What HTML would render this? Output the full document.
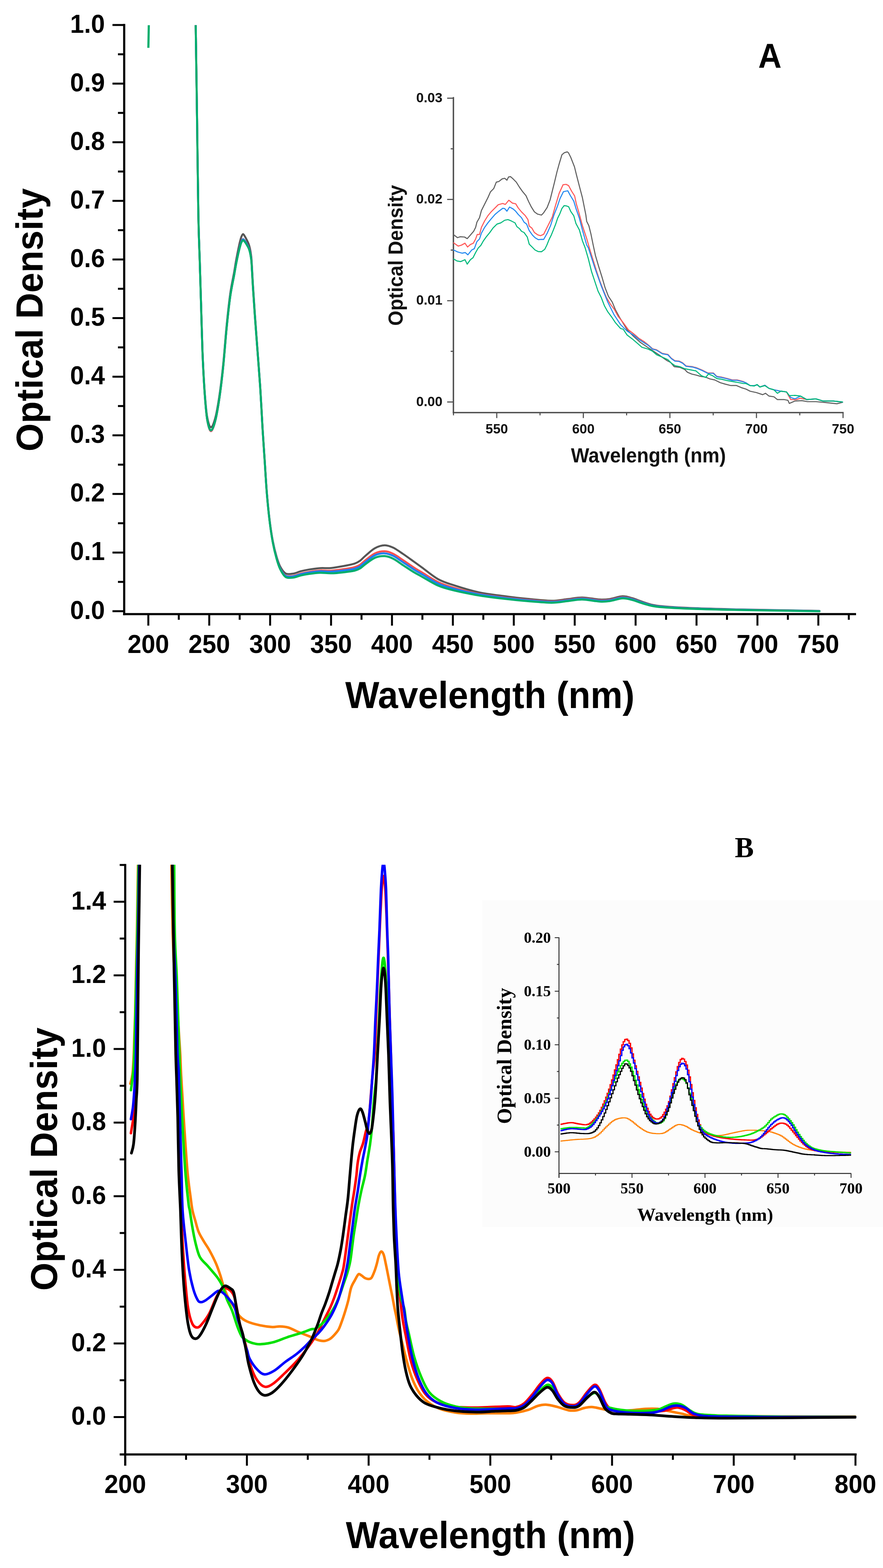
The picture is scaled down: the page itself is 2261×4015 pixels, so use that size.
<!DOCTYPE html>
<html><head><meta charset="utf-8"><title>Optical Density spectra</title>
<style>html,body{margin:0;padding:0;background:#fff;}svg{display:block;}</style></head><body>
<svg width="2261" height="4015" viewBox="0 0 2261 4015">
<rect x="0" y="0" width="2261" height="4015" fill="#fff"/>
<defs><clipPath id="clipA"><rect x="318" y="64.5" width="1874" height="1508"/></clipPath><clipPath id="clipB"><rect x="320.6" y="2214.3" width="1872" height="1510"/></clipPath></defs>
<g clip-path="url(#clipA)">
<path d="M501 58 C501.6 98.2 503.4 217.5 504.5 299.3 C505.6 381 506.8 487.7 507.9 548.6 C509 609.4 510.2 625.8 511.4 664.3 C512.6 702.9 513.7 741.4 514.9 780 C516.1 818.6 517 861.1 518.4 895.8 C519.8 930.4 521.4 961.1 523.1 987.9 C524.9 1014.7 527 1040.3 528.9 1056.6 C530.8 1072.9 532.8 1079.5 534.7 1085.8 C536.6 1092 538.2 1094.1 540.1 1094 C542 1093.9 544 1091.7 546.4 1085.3 C548.8 1079 551.6 1070.4 554.5 1055.9 C557.4 1041.3 561 1019.4 563.9 998 C566.8 976.6 569.3 955 572 927.7 C574.7 900.4 577.3 863.5 580.2 834.2 C583.1 804.9 586.3 775 589.5 752.1 C592.7 729.3 597.2 710.3 599.5 697 C601.8 683.8 602.2 680.4 603.5 672.7 C604.8 665.1 606.2 657.7 607.5 651.3 C608.8 644.8 609.8 639.4 611 634 C612.2 628.6 613.3 623.3 614.5 618.7 C615.7 614.1 616.7 609.7 618 606.5 C619.3 603.2 620.8 599.6 622.3 599.4 C623.8 599.2 625.4 602.6 627 605.2 C628.6 607.8 630.5 611.5 632.2 614.9 C633.9 618.3 635.6 621.7 637 625.5 C638.4 629.3 639.3 633.2 640.3 637.6 C641.2 642 642 646.6 642.7 651.9 C643.4 657.3 643.6 656.8 644.4 669.6 C645.2 682.5 646.4 707.2 647.7 729 C649 750.8 650.5 772.7 652.4 800.5 C654.3 828.4 657.1 864.7 659.4 896.2 C661.7 927.7 664.1 955.9 666.3 989.3 C668.5 1022.8 670.5 1065 672.4 1096.7 C674.3 1128.3 676.1 1151.7 677.9 1179.3 C679.7 1206.8 681.3 1236.6 683.4 1261.8 C685.5 1287 687.8 1309.9 690.3 1330.5 C692.8 1351.2 695.6 1369.7 698.6 1385.5 C701.6 1401.4 705 1414.5 708.2 1425.5 C711.4 1436.5 714 1444.3 717.9 1451.5 C721.8 1458.7 726.2 1465.7 731.7 1468.6 C737.2 1471.4 744.6 1469.7 751 1468.7 C757.4 1467.7 763.4 1464.5 770.3 1462.7 C777.2 1461 784 1459.5 792.3 1458.1 C800.6 1456.8 810.7 1455.3 819.9 1454.7 C829.1 1454.1 837.4 1455.3 847.5 1454.4 C857.6 1453.5 870.4 1451.2 880.5 1449.3 C890.6 1447.4 901.2 1445.3 908.1 1443.1 C915 1440.9 917.3 1439.2 921.9 1435.9 C926.5 1432.5 929.3 1428.5 935.7 1423.1 C942.1 1417.7 952.2 1407.9 960.5 1403.5 C968.8 1399 977.5 1396.4 985.3 1396.3 C993.1 1396.2 999.5 1398.9 1007.3 1402.6 C1015.1 1406.3 1023.4 1412.6 1032.2 1418.5 C1041 1424.4 1051.8 1432.4 1060 1438.3 C1068.2 1444.2 1071 1446.3 1081.4 1453.8 C1091.9 1461.4 1108.9 1475.9 1122.7 1483.5 C1136.5 1491 1146.8 1493.7 1164 1499.2 C1181.2 1504.8 1205.4 1512.2 1226.1 1516.7 C1246.8 1521.2 1267.4 1523.3 1288.1 1526.1 C1308.8 1528.8 1329.4 1531.3 1350.1 1533.3 C1370.8 1535.4 1395 1538.1 1412.2 1538.3 C1429.4 1538.4 1440.4 1535.5 1453.5 1534.1 C1466.6 1532.7 1476.9 1529.7 1490.7 1529.9 C1504.5 1530.1 1524.5 1534.5 1536.2 1535.1 C1547.9 1535.8 1551.3 1535.3 1561 1533.9 C1570.7 1532.5 1584.4 1527.2 1594.1 1526.8 C1603.8 1526.4 1609.7 1529.1 1618.9 1531.7 C1628.2 1534.3 1639 1539.4 1649.6 1542.6 C1660.2 1545.8 1663.4 1548.7 1682.7 1551 C1702 1553.4 1730.9 1555.2 1765.4 1556.8 C1799.9 1558.3 1848.2 1559.4 1889.5 1560.4 C1930.8 1561.4 1978.7 1562 2013.5 1562.7 C2048.3 1563.3 2084.2 1563.9 2098.3 1564.2" fill="none" stroke="#555555" stroke-width="5" stroke-linejoin="round" stroke-linecap="round"/>
<path d="M501 58 C501.6 98.4 503.4 218.1 504.5 300.1 C505.6 382.2 506.8 489.2 507.9 550.3 C509 611.4 510.2 628.1 511.4 666.9 C512.6 705.8 513.7 744.6 514.9 783.5 C516.1 822.3 517 865.1 518.4 900.1 C519.8 935.1 521.4 966.2 523.1 993.4 C524.9 1020.7 527 1046.8 528.9 1063.7 C530.8 1080.5 532.8 1087.6 534.7 1094.3 C536.6 1101.1 538.2 1104 540.1 1104 C542 1104 544 1101.1 546.4 1094.4 C548.8 1087.7 551.6 1078.6 554.5 1063.7 C557.4 1048.8 561 1026.5 563.9 1005 C566.8 983.5 569.3 962 572 934.7 C574.7 907.4 577.3 870.5 580.2 841.2 C583.1 811.9 586.3 782 589.5 759.1 C592.7 736.3 597.2 717.1 599.5 704 C601.8 691 602.2 688 603.5 680.7 C604.8 673.4 606.2 666.4 607.5 660.3 C608.8 654.2 609.8 649.1 611 644 C612.2 638.9 613.3 634 614.5 629.7 C615.7 625.4 616.7 621.3 618 618.4 C619.3 615.5 620.8 612.6 622.3 612.3 C623.8 612.1 625.4 614.7 627 616.8 C628.6 618.9 630.5 622.1 632.2 625.1 C633.9 628 635.6 630.9 637 634.3 C638.4 637.7 639.3 641.4 640.3 645.5 C641.2 649.7 642 654.1 642.7 659.3 C643.4 664.4 643.6 663.9 644.4 676.5 C645.2 689.2 646.4 713.6 647.7 735.1 C649 756.6 650.5 778.1 652.4 805.4 C654.3 832.8 657.1 868.2 659.4 899.3 C661.7 930.5 664.1 959 666.3 992.3 C668.5 1025.7 670.5 1068 672.4 1099.7 C674.3 1131.3 676.1 1154.7 677.9 1182.3 C679.7 1209.8 681.3 1239.6 683.4 1264.8 C685.5 1290 687.8 1312.9 690.3 1333.5 C692.8 1354.2 695.6 1372.6 698.6 1388.5 C701.6 1404.5 705 1417.9 708.2 1429.1 C711.4 1440.4 714 1448.4 717.9 1455.9 C721.8 1463.4 726.2 1471 731.7 1474.1 C737.2 1477.3 744.6 1475.6 751 1474.7 C757.4 1473.8 763.4 1470.5 770.3 1468.7 C777.2 1467 784 1465.5 792.3 1464.1 C800.6 1462.8 810.7 1461.2 819.9 1460.7 C829.1 1460.2 837.4 1461.8 847.5 1461.2 C857.6 1460.6 870.4 1458.8 880.5 1457.3 C890.6 1455.8 901.2 1454 908.1 1452.1 C915 1450.2 917.3 1448.9 921.9 1446 C926.5 1443 929.3 1439.3 935.7 1434.4 C942.1 1429.5 952.2 1420.5 960.5 1416.7 C968.8 1412.9 977.5 1411.3 985.3 1411.5 C993.1 1411.7 999.5 1414.3 1007.3 1418.2 C1015.1 1422 1023.4 1428.5 1032.2 1434.4 C1041 1440.2 1051.8 1448 1060 1453.3 C1068.2 1458.6 1071 1460 1081.4 1466.2 C1091.9 1472.5 1108.9 1484.4 1122.7 1490.9 C1136.5 1497.4 1146.8 1500.4 1164 1505.3 C1181.2 1510.3 1205.4 1516.7 1226.1 1520.7 C1246.8 1524.7 1267.4 1526.8 1288.1 1529.4 C1308.8 1531.9 1329.4 1534.1 1350.1 1535.9 C1370.8 1537.7 1395 1540.3 1412.2 1540.3 C1429.4 1540.3 1440.4 1537.6 1453.5 1536.2 C1466.6 1534.8 1476.9 1531.9 1490.7 1532.1 C1504.5 1532.3 1524.5 1536.7 1536.2 1537.4 C1547.9 1538.1 1551.3 1537.6 1561 1536.2 C1570.7 1534.8 1584.4 1529.6 1594.1 1529.2 C1603.8 1528.8 1609.7 1531.3 1618.9 1533.8 C1628.2 1536.3 1639 1541.2 1649.6 1544.2 C1660.2 1547.3 1663.4 1550 1682.7 1552.3 C1702 1554.5 1730.9 1556.2 1765.4 1557.7 C1799.9 1559.2 1848.2 1560.2 1889.5 1561.1 C1930.8 1562.1 1978.7 1562.7 2013.5 1563.3 C2048.3 1563.9 2084.2 1564.5 2098.3 1564.7" fill="none" stroke="#ff5050" stroke-width="5" stroke-linejoin="round" stroke-linecap="round"/>
<path d="M501 58 C501.6 98.3 503.4 218 504.5 300 C505.6 382 506.8 488.9 507.9 550 C509 611.1 510.2 627.7 511.4 666.5 C512.6 705.3 513.7 744.1 514.9 782.9 C516.1 821.7 517 864.5 518.4 899.4 C519.8 934.3 521.4 965.3 523.1 992.5 C524.9 1019.7 527 1045.8 528.9 1062.5 C530.8 1079.3 532.8 1086.4 534.7 1093 C536.6 1099.7 538.2 1102.5 540.1 1102.5 C542 1102.5 544 1099.7 546.4 1093 C548.8 1086.4 551.6 1077.4 554.5 1062.5 C557.4 1047.7 561 1025.5 563.9 1004.1 C566.8 982.7 569.3 961.2 572 934 C574.7 906.8 577.3 869.9 580.2 840.7 C583.1 811.5 586.3 781.6 589.5 758.9 C592.7 736.1 597.2 717 599.5 704 C601.8 691 602.2 688 603.5 680.8 C604.8 673.5 606.2 666.6 607.5 660.5 C608.8 654.4 609.8 649.3 611 644.2 C612.2 639.2 613.3 634.3 614.5 630 C615.7 625.8 616.7 621.6 618 618.8 C619.3 615.9 620.8 613.1 622.3 612.8 C623.8 612.5 625.4 615.1 627 617.1 C628.6 619.2 630.5 622.4 632.2 625.3 C633.9 628.2 635.6 631 637 634.4 C638.4 637.8 639.3 641.4 640.3 645.5 C641.2 649.7 642 654.1 642.7 659.3 C643.4 664.4 643.6 663.9 644.4 676.5 C645.2 689.2 646.4 713.6 647.7 735.1 C649 756.6 650.5 778.1 652.4 805.4 C654.3 832.8 657.1 868.2 659.4 899.3 C661.7 930.5 664.1 959 666.3 992.3 C668.5 1025.7 670.5 1068 672.4 1099.7 C674.3 1131.3 676.1 1154.7 677.9 1182.3 C679.7 1209.8 681.3 1239.6 683.4 1264.8 C685.5 1290 687.8 1312.9 690.3 1333.5 C692.8 1354.2 695.6 1372.6 698.6 1388.5 C701.6 1404.5 705 1418 708.2 1429.4 C711.4 1440.7 714 1448.8 717.9 1456.4 C721.8 1464 726.2 1471.8 731.7 1475 C737.2 1478.2 744.6 1476.7 751 1475.8 C757.4 1475 763.4 1471.8 770.3 1470.1 C777.2 1468.4 784 1467 792.3 1465.8 C800.6 1464.5 810.7 1463 819.9 1462.7 C829.1 1462.3 837.4 1464.1 847.5 1463.7 C857.6 1463.4 870.4 1461.9 880.5 1460.6 C890.6 1459.4 901.2 1457.8 908.1 1456.1 C915 1454.4 917.3 1453.1 921.9 1450.2 C926.5 1447.4 929.3 1443.6 935.7 1438.9 C942.1 1434.1 952.2 1425.3 960.5 1421.6 C968.8 1418 977.5 1416.6 985.3 1416.9 C993.1 1417.2 999.5 1419.8 1007.3 1423.6 C1015.1 1427.4 1023.4 1434.1 1032.2 1439.9 C1041 1445.7 1051.8 1453.1 1060 1458.3 C1068.2 1463.5 1071 1464.8 1081.4 1470.9 C1091.9 1477 1108.9 1488.7 1122.7 1494.9 C1136.5 1501.1 1146.8 1503.6 1164 1508.1 C1181.2 1512.6 1205.4 1518 1226.1 1521.7 C1246.8 1525.4 1267.4 1527.8 1288.1 1530.4 C1308.8 1532.9 1329.4 1535.1 1350.1 1536.9 C1370.8 1538.7 1395 1541.3 1412.2 1541.3 C1429.4 1541.3 1440.4 1538.6 1453.5 1537.2 C1466.6 1535.8 1476.9 1532.9 1490.7 1533.1 C1504.5 1533.3 1524.5 1537.7 1536.2 1538.4 C1547.9 1539.1 1551.3 1538.6 1561 1537.2 C1570.7 1535.8 1584.4 1530.6 1594.1 1530.2 C1603.8 1529.8 1609.7 1532.1 1618.9 1534.5 C1628.2 1537 1639 1541.7 1649.6 1544.7 C1660.2 1547.7 1663.4 1550.3 1682.7 1552.4 C1702 1554.6 1730.9 1556.2 1765.4 1557.7 C1799.9 1559.1 1848.2 1560.2 1889.5 1561.1 C1930.8 1562.1 1978.7 1562.7 2013.5 1563.3 C2048.3 1563.9 2084.2 1564.5 2098.3 1564.7" fill="none" stroke="#1e7ff0" stroke-width="5" stroke-linejoin="round" stroke-linecap="round"/>
<path d="M501 58 C501.6 98.3 503.4 218 504.5 300 C505.6 382 506.8 488.9 507.9 550 C509 611.1 510.2 627.7 511.4 666.5 C512.6 705.3 513.7 744.1 514.9 782.9 C516.1 821.7 517 864.5 518.4 899.4 C519.8 934.3 521.4 965.3 523.1 992.5 C524.9 1019.7 527 1045.7 528.9 1062.4 C530.8 1079.1 532.8 1086.1 534.7 1092.7 C536.6 1099.3 538.2 1102 540.1 1102 C542 1102 544 1099.3 546.4 1092.7 C548.8 1086.1 551.6 1077.2 554.5 1062.4 C557.4 1047.7 561 1025.6 563.9 1004.2 C566.8 982.9 569.3 961.5 572 934.3 C574.7 907.1 577.3 870.3 580.2 841.2 C583.1 812.1 586.3 782.3 589.5 759.6 C592.7 736.9 597.2 717.9 599.5 705 C601.8 692.1 602.2 689.2 603.5 682 C604.8 674.8 606.2 668 607.5 662 C608.8 656 609.8 651 611 646 C612.2 641 613.3 636.2 614.5 632 C615.7 627.8 616.7 623.8 618 621 C619.3 618.2 620.8 615.5 622.3 615.3 C623.8 615 625.4 617.5 627 619.5 C628.6 621.5 630.5 624.7 632.2 627.5 C633.9 630.3 635.6 633.2 637 636.5 C638.4 639.8 639.3 643.4 640.3 647.5 C641.2 651.6 642 655.9 642.7 661 C643.4 666.1 643.6 665.6 644.4 678.1 C645.2 690.6 646.4 714.9 647.7 736.3 C649 757.6 650.5 779 652.4 806.2 C654.3 833.4 657.1 868.4 659.4 899.4 C661.7 930.4 664.1 959.1 666.3 992.5 C668.5 1025.9 670.5 1068.3 672.4 1100 C674.3 1131.7 676.1 1155.1 677.9 1182.7 C679.7 1210.3 681.3 1240.1 683.4 1265.4 C685.5 1290.7 687.8 1313.6 690.3 1334.3 C692.8 1355 695.6 1373.4 698.6 1389.5 C701.6 1405.6 705 1419.3 708.2 1430.8 C711.4 1442.3 714 1450.6 717.9 1458.4 C721.8 1466.2 726.2 1474.3 731.7 1477.7 C737.2 1481.1 744.6 1479.7 751 1479 C757.4 1478.3 763.4 1475.1 770.3 1473.5 C777.2 1471.9 784 1470.6 792.3 1469.4 C800.6 1468.2 810.7 1466.8 819.9 1466.6 C829.1 1466.4 837.4 1468.2 847.5 1468 C857.6 1467.8 870.4 1466.5 880.5 1465.3 C890.6 1464.1 901.2 1462.7 908.1 1461.1 C915 1459.5 917.3 1458.3 921.9 1455.6 C926.5 1452.8 929.3 1449.2 935.7 1444.6 C942.1 1440 952.2 1431.5 960.5 1428 C968.8 1424.5 977.5 1423.4 985.3 1423.9 C993.1 1424.4 999.5 1426.9 1007.3 1430.8 C1015.1 1434.7 1023.4 1441.5 1032.2 1447.3 C1041 1453 1051.8 1460.3 1060 1465.3 C1068.2 1470.3 1071 1471.4 1081.4 1477.2 C1091.9 1483 1108.9 1494.1 1122.7 1499.9 C1136.5 1505.8 1146.8 1508.2 1164 1512.3 C1181.2 1516.4 1205.4 1521.2 1226.1 1524.7 C1246.8 1528.2 1267.4 1530.6 1288.1 1533 C1308.8 1535.4 1329.4 1537.5 1350.1 1539.2 C1370.8 1540.9 1395 1543.3 1412.2 1543.3 C1429.4 1543.3 1440.4 1540.6 1453.5 1539.2 C1466.6 1537.8 1476.9 1534.9 1490.7 1535.1 C1504.5 1535.3 1524.5 1539.7 1536.2 1540.4 C1547.9 1541.1 1551.3 1540.6 1561 1539.2 C1570.7 1537.8 1584.4 1532.7 1594.1 1532.2 C1603.8 1531.7 1609.7 1534 1618.9 1536.3 C1628.2 1538.6 1639 1543.3 1649.6 1546.2 C1660.2 1549.1 1663.4 1551.5 1682.7 1553.6 C1702 1555.7 1730.9 1557.2 1765.4 1558.6 C1799.9 1560 1848.2 1561 1889.5 1561.9 C1930.8 1562.8 1978.7 1563.4 2013.5 1563.9 C2048.3 1564.5 2084.2 1565 2098.3 1565.2" fill="none" stroke="#00ae6c" stroke-width="5.2" stroke-linejoin="round" stroke-linecap="round"/>
<line x1="379.9" y1="122.5" x2="381.1" y2="60" stroke="#00ae6c" stroke-width="5.5" stroke-linecap="butt"/>
</g>
<line x1="318" y1="61.3" x2="318" y2="1575.2" stroke="#000" stroke-width="5.5" stroke-linecap="butt"/>
<line x1="315.2" y1="1572.4" x2="2192" y2="1572.4" stroke="#000" stroke-width="5.5" stroke-linecap="butt"/>
<line x1="288" y1="1565" x2="318" y2="1565" stroke="#000" stroke-width="5" stroke-linecap="butt"/>
<text x="0" y="0" transform="translate(268.5 1584.5) scale(1 1.04)" font-family="'Liberation Sans', Arial, sans-serif" font-weight="bold" font-size="64" text-anchor="end" fill="#000">0.0</text>
<line x1="288" y1="1414.9" x2="318" y2="1414.9" stroke="#000" stroke-width="5" stroke-linecap="butt"/>
<text x="0" y="0" transform="translate(268.5 1434.4) scale(1 1.04)" font-family="'Liberation Sans', Arial, sans-serif" font-weight="bold" font-size="64" text-anchor="end" fill="#000">0.1</text>
<line x1="288" y1="1264.8" x2="318" y2="1264.8" stroke="#000" stroke-width="5" stroke-linecap="butt"/>
<text x="0" y="0" transform="translate(268.5 1284.3) scale(1 1.04)" font-family="'Liberation Sans', Arial, sans-serif" font-weight="bold" font-size="64" text-anchor="end" fill="#000">0.2</text>
<line x1="288" y1="1114.7" x2="318" y2="1114.7" stroke="#000" stroke-width="5" stroke-linecap="butt"/>
<text x="0" y="0" transform="translate(268.5 1134.2) scale(1 1.04)" font-family="'Liberation Sans', Arial, sans-serif" font-weight="bold" font-size="64" text-anchor="end" fill="#000">0.3</text>
<line x1="288" y1="964.6" x2="318" y2="964.6" stroke="#000" stroke-width="5" stroke-linecap="butt"/>
<text x="0" y="0" transform="translate(268.5 984.1) scale(1 1.04)" font-family="'Liberation Sans', Arial, sans-serif" font-weight="bold" font-size="64" text-anchor="end" fill="#000">0.4</text>
<line x1="288" y1="814.5" x2="318" y2="814.5" stroke="#000" stroke-width="5" stroke-linecap="butt"/>
<text x="0" y="0" transform="translate(268.5 834) scale(1 1.04)" font-family="'Liberation Sans', Arial, sans-serif" font-weight="bold" font-size="64" text-anchor="end" fill="#000">0.5</text>
<line x1="288" y1="664.4" x2="318" y2="664.4" stroke="#000" stroke-width="5" stroke-linecap="butt"/>
<text x="0" y="0" transform="translate(268.5 683.9) scale(1 1.04)" font-family="'Liberation Sans', Arial, sans-serif" font-weight="bold" font-size="64" text-anchor="end" fill="#000">0.6</text>
<line x1="288" y1="514.3" x2="318" y2="514.3" stroke="#000" stroke-width="5" stroke-linecap="butt"/>
<text x="0" y="0" transform="translate(268.5 533.8) scale(1 1.04)" font-family="'Liberation Sans', Arial, sans-serif" font-weight="bold" font-size="64" text-anchor="end" fill="#000">0.7</text>
<line x1="288" y1="364.2" x2="318" y2="364.2" stroke="#000" stroke-width="5" stroke-linecap="butt"/>
<text x="0" y="0" transform="translate(268.5 383.7) scale(1 1.04)" font-family="'Liberation Sans', Arial, sans-serif" font-weight="bold" font-size="64" text-anchor="end" fill="#000">0.8</text>
<line x1="288" y1="214.1" x2="318" y2="214.1" stroke="#000" stroke-width="5" stroke-linecap="butt"/>
<text x="0" y="0" transform="translate(268.5 233.6) scale(1 1.04)" font-family="'Liberation Sans', Arial, sans-serif" font-weight="bold" font-size="64" text-anchor="end" fill="#000">0.9</text>
<line x1="288" y1="64" x2="318" y2="64" stroke="#000" stroke-width="5" stroke-linecap="butt"/>
<text x="0" y="0" transform="translate(268.5 83.5) scale(1 1.04)" font-family="'Liberation Sans', Arial, sans-serif" font-weight="bold" font-size="64" text-anchor="end" fill="#000">1.0</text>
<line x1="302" y1="1490" x2="318" y2="1490" stroke="#000" stroke-width="5" stroke-linecap="butt"/>
<line x1="302" y1="1339.8" x2="318" y2="1339.8" stroke="#000" stroke-width="5" stroke-linecap="butt"/>
<line x1="302" y1="1189.8" x2="318" y2="1189.8" stroke="#000" stroke-width="5" stroke-linecap="butt"/>
<line x1="302" y1="1039.7" x2="318" y2="1039.7" stroke="#000" stroke-width="5" stroke-linecap="butt"/>
<line x1="302" y1="889.5" x2="318" y2="889.5" stroke="#000" stroke-width="5" stroke-linecap="butt"/>
<line x1="302" y1="739.4" x2="318" y2="739.4" stroke="#000" stroke-width="5" stroke-linecap="butt"/>
<line x1="302" y1="589.4" x2="318" y2="589.4" stroke="#000" stroke-width="5" stroke-linecap="butt"/>
<line x1="302" y1="439.2" x2="318" y2="439.2" stroke="#000" stroke-width="5" stroke-linecap="butt"/>
<line x1="302" y1="289.1" x2="318" y2="289.1" stroke="#000" stroke-width="5" stroke-linecap="butt"/>
<line x1="302" y1="139" x2="318" y2="139" stroke="#000" stroke-width="5" stroke-linecap="butt"/>
<line x1="379.8" y1="1572.4" x2="379.8" y2="1602" stroke="#000" stroke-width="5" stroke-linecap="butt"/>
<text x="0" y="0" transform="translate(379.8 1672) scale(1 1.04)" font-family="'Liberation Sans', Arial, sans-serif" font-weight="bold" font-size="64" text-anchor="middle" fill="#000">200</text>
<line x1="535.8" y1="1572.4" x2="535.8" y2="1602" stroke="#000" stroke-width="5" stroke-linecap="butt"/>
<text x="0" y="0" transform="translate(535.8 1672) scale(1 1.04)" font-family="'Liberation Sans', Arial, sans-serif" font-weight="bold" font-size="64" text-anchor="middle" fill="#000">250</text>
<line x1="691.7" y1="1572.4" x2="691.7" y2="1602" stroke="#000" stroke-width="5" stroke-linecap="butt"/>
<text x="0" y="0" transform="translate(691.7 1672) scale(1 1.04)" font-family="'Liberation Sans', Arial, sans-serif" font-weight="bold" font-size="64" text-anchor="middle" fill="#000">300</text>
<line x1="847.7" y1="1572.4" x2="847.7" y2="1602" stroke="#000" stroke-width="5" stroke-linecap="butt"/>
<text x="0" y="0" transform="translate(847.7 1672) scale(1 1.04)" font-family="'Liberation Sans', Arial, sans-serif" font-weight="bold" font-size="64" text-anchor="middle" fill="#000">350</text>
<line x1="1003.7" y1="1572.4" x2="1003.7" y2="1602" stroke="#000" stroke-width="5" stroke-linecap="butt"/>
<text x="0" y="0" transform="translate(1003.7 1672) scale(1 1.04)" font-family="'Liberation Sans', Arial, sans-serif" font-weight="bold" font-size="64" text-anchor="middle" fill="#000">400</text>
<line x1="1159.6" y1="1572.4" x2="1159.6" y2="1602" stroke="#000" stroke-width="5" stroke-linecap="butt"/>
<text x="0" y="0" transform="translate(1159.6 1672) scale(1 1.04)" font-family="'Liberation Sans', Arial, sans-serif" font-weight="bold" font-size="64" text-anchor="middle" fill="#000">450</text>
<line x1="1315.6" y1="1572.4" x2="1315.6" y2="1602" stroke="#000" stroke-width="5" stroke-linecap="butt"/>
<text x="0" y="0" transform="translate(1315.6 1672) scale(1 1.04)" font-family="'Liberation Sans', Arial, sans-serif" font-weight="bold" font-size="64" text-anchor="middle" fill="#000">500</text>
<line x1="1471.6" y1="1572.4" x2="1471.6" y2="1602" stroke="#000" stroke-width="5" stroke-linecap="butt"/>
<text x="0" y="0" transform="translate(1471.6 1672) scale(1 1.04)" font-family="'Liberation Sans', Arial, sans-serif" font-weight="bold" font-size="64" text-anchor="middle" fill="#000">550</text>
<line x1="1627.5" y1="1572.4" x2="1627.5" y2="1602" stroke="#000" stroke-width="5" stroke-linecap="butt"/>
<text x="0" y="0" transform="translate(1627.5 1672) scale(1 1.04)" font-family="'Liberation Sans', Arial, sans-serif" font-weight="bold" font-size="64" text-anchor="middle" fill="#000">600</text>
<line x1="1783.5" y1="1572.4" x2="1783.5" y2="1602" stroke="#000" stroke-width="5" stroke-linecap="butt"/>
<text x="0" y="0" transform="translate(1783.5 1672) scale(1 1.04)" font-family="'Liberation Sans', Arial, sans-serif" font-weight="bold" font-size="64" text-anchor="middle" fill="#000">650</text>
<line x1="1939.5" y1="1572.4" x2="1939.5" y2="1602" stroke="#000" stroke-width="5" stroke-linecap="butt"/>
<text x="0" y="0" transform="translate(1939.5 1672) scale(1 1.04)" font-family="'Liberation Sans', Arial, sans-serif" font-weight="bold" font-size="64" text-anchor="middle" fill="#000">700</text>
<line x1="2095.4" y1="1572.4" x2="2095.4" y2="1602" stroke="#000" stroke-width="5" stroke-linecap="butt"/>
<text x="0" y="0" transform="translate(2095.4 1672) scale(1 1.04)" font-family="'Liberation Sans', Arial, sans-serif" font-weight="bold" font-size="64" text-anchor="middle" fill="#000">750</text>
<line x1="457.8" y1="1572.4" x2="457.8" y2="1587" stroke="#000" stroke-width="5" stroke-linecap="butt"/>
<line x1="613.7" y1="1572.4" x2="613.7" y2="1587" stroke="#000" stroke-width="5" stroke-linecap="butt"/>
<line x1="769.7" y1="1572.4" x2="769.7" y2="1587" stroke="#000" stroke-width="5" stroke-linecap="butt"/>
<line x1="925.7" y1="1572.4" x2="925.7" y2="1587" stroke="#000" stroke-width="5" stroke-linecap="butt"/>
<line x1="1081.6" y1="1572.4" x2="1081.6" y2="1587" stroke="#000" stroke-width="5" stroke-linecap="butt"/>
<line x1="1237.6" y1="1572.4" x2="1237.6" y2="1587" stroke="#000" stroke-width="5" stroke-linecap="butt"/>
<line x1="1393.6" y1="1572.4" x2="1393.6" y2="1587" stroke="#000" stroke-width="5" stroke-linecap="butt"/>
<line x1="1549.5" y1="1572.4" x2="1549.5" y2="1587" stroke="#000" stroke-width="5" stroke-linecap="butt"/>
<line x1="1705.5" y1="1572.4" x2="1705.5" y2="1587" stroke="#000" stroke-width="5" stroke-linecap="butt"/>
<line x1="1861.5" y1="1572.4" x2="1861.5" y2="1587" stroke="#000" stroke-width="5" stroke-linecap="butt"/>
<line x1="2017.4" y1="1572.4" x2="2017.4" y2="1587" stroke="#000" stroke-width="5" stroke-linecap="butt"/>
<line x1="2173.4" y1="1572.4" x2="2173.4" y2="1587" stroke="#000" stroke-width="5" stroke-linecap="butt"/>
<text x="0" y="0" transform="translate(108.5 1156) rotate(-90) scale(1 1.04)" font-family="'Liberation Sans', Arial, sans-serif" font-weight="bold" font-size="92.6" text-anchor="start" fill="#000">Optical Density</text>
<text x="0" y="0" transform="translate(884 1813) scale(1 1.04)" font-family="'Liberation Sans', Arial, sans-serif" font-weight="bold" font-size="92.4" text-anchor="start" fill="#000">Wavelength (nm)</text>
<text x="0" y="0" transform="translate(1941.5 173.5) scale(0.93 1)" font-family="'Liberation Sans', Arial, sans-serif" font-weight="bold" font-size="89" text-anchor="start" fill="#000">A</text>
<line x1="1161" y1="248.5" x2="1161" y2="1058.3" stroke="#4d4d4d" stroke-width="3.6" stroke-linecap="butt"/>
<line x1="1159.2" y1="1056.5" x2="2160.3" y2="1056.5" stroke="#4d4d4d" stroke-width="3.6" stroke-linecap="butt"/>
<line x1="1145" y1="1029.3" x2="1161" y2="1029.3" stroke="#4d4d4d" stroke-width="2.8" stroke-linecap="butt"/>
<text x="0" y="0" transform="translate(1133 1039.5) scale(1 1.04)" font-family="'Liberation Sans', Arial, sans-serif" font-weight="bold" font-size="34.5" text-anchor="end" fill="#111">0.00</text>
<line x1="1145" y1="770" x2="1161" y2="770" stroke="#4d4d4d" stroke-width="2.8" stroke-linecap="butt"/>
<text x="0" y="0" transform="translate(1133 780.2) scale(1 1.04)" font-family="'Liberation Sans', Arial, sans-serif" font-weight="bold" font-size="34.5" text-anchor="end" fill="#111">0.01</text>
<line x1="1145" y1="510.7" x2="1161" y2="510.7" stroke="#4d4d4d" stroke-width="2.8" stroke-linecap="butt"/>
<text x="0" y="0" transform="translate(1133 520.9) scale(1 1.04)" font-family="'Liberation Sans', Arial, sans-serif" font-weight="bold" font-size="34.5" text-anchor="end" fill="#111">0.02</text>
<line x1="1145" y1="251.4" x2="1161" y2="251.4" stroke="#4d4d4d" stroke-width="2.8" stroke-linecap="butt"/>
<text x="0" y="0" transform="translate(1133 261.6) scale(1 1.04)" font-family="'Liberation Sans', Arial, sans-serif" font-weight="bold" font-size="34.5" text-anchor="end" fill="#111">0.03</text>
<line x1="1154" y1="899.6" x2="1161" y2="899.6" stroke="#4d4d4d" stroke-width="2.8" stroke-linecap="butt"/>
<line x1="1154" y1="640.3" x2="1161" y2="640.3" stroke="#4d4d4d" stroke-width="2.8" stroke-linecap="butt"/>
<line x1="1154" y1="381" x2="1161" y2="381" stroke="#4d4d4d" stroke-width="2.8" stroke-linecap="butt"/>
<line x1="1272" y1="1056.5" x2="1272" y2="1070.5" stroke="#4d4d4d" stroke-width="2.8" stroke-linecap="butt"/>
<text x="0" y="0" transform="translate(1272 1110.3) scale(1 1.04)" font-family="'Liberation Sans', Arial, sans-serif" font-weight="bold" font-size="34.5" text-anchor="middle" fill="#111">550</text>
<line x1="1493.7" y1="1056.5" x2="1493.7" y2="1070.5" stroke="#4d4d4d" stroke-width="2.8" stroke-linecap="butt"/>
<text x="0" y="0" transform="translate(1493.7 1110.3) scale(1 1.04)" font-family="'Liberation Sans', Arial, sans-serif" font-weight="bold" font-size="34.5" text-anchor="middle" fill="#111">600</text>
<line x1="1715.3" y1="1056.5" x2="1715.3" y2="1070.5" stroke="#4d4d4d" stroke-width="2.8" stroke-linecap="butt"/>
<text x="0" y="0" transform="translate(1715.3 1110.3) scale(1 1.04)" font-family="'Liberation Sans', Arial, sans-serif" font-weight="bold" font-size="34.5" text-anchor="middle" fill="#111">650</text>
<line x1="1937" y1="1056.5" x2="1937" y2="1070.5" stroke="#4d4d4d" stroke-width="2.8" stroke-linecap="butt"/>
<text x="0" y="0" transform="translate(1937 1110.3) scale(1 1.04)" font-family="'Liberation Sans', Arial, sans-serif" font-weight="bold" font-size="34.5" text-anchor="middle" fill="#111">700</text>
<line x1="2158.7" y1="1056.5" x2="2158.7" y2="1070.5" stroke="#4d4d4d" stroke-width="2.8" stroke-linecap="butt"/>
<text x="0" y="0" transform="translate(2158.7 1110.3) scale(1 1.04)" font-family="'Liberation Sans', Arial, sans-serif" font-weight="bold" font-size="34.5" text-anchor="middle" fill="#111">750</text>
<line x1="1161.2" y1="1056.5" x2="1161.2" y2="1063.5" stroke="#4d4d4d" stroke-width="2.8" stroke-linecap="butt"/>
<line x1="1382.8" y1="1056.5" x2="1382.8" y2="1063.5" stroke="#4d4d4d" stroke-width="2.8" stroke-linecap="butt"/>
<line x1="1604.5" y1="1056.5" x2="1604.5" y2="1063.5" stroke="#4d4d4d" stroke-width="2.8" stroke-linecap="butt"/>
<line x1="1826.2" y1="1056.5" x2="1826.2" y2="1063.5" stroke="#4d4d4d" stroke-width="2.8" stroke-linecap="butt"/>
<line x1="2047.9" y1="1056.5" x2="2047.9" y2="1063.5" stroke="#4d4d4d" stroke-width="2.8" stroke-linecap="butt"/>
<text x="0" y="0" transform="translate(1030.5 834) rotate(-90) scale(1 1.04)" font-family="'Liberation Sans', Arial, sans-serif" font-weight="bold" font-size="49.5" text-anchor="start" fill="#111">Optical Density</text>
<text x="0" y="0" transform="translate(1462 1183.5) scale(1 1.04)" font-family="'Liberation Sans', Arial, sans-serif" font-weight="bold" font-size="49.5" text-anchor="start" fill="#111">Wavelength (nm)</text>
<path d="M1161.6 601.2 L1171.5 608.6 L1178.2 606.2 L1189.7 607 L1196.3 611.1 L1203 603.7 L1212.9 592.1 L1217.9 582.2 L1221.2 568.9 L1227.8 557.4 L1232.7 539.2 L1241 522.6 L1249.3 506.1 L1255.9 491.2 L1264.2 482.9 L1270.8 466.4 L1277.4 464.7 L1285.7 458.1 L1292.3 456.5 L1298.1 461.4 L1302.2 453.2 L1307.2 452.3 L1313.8 458.1 L1322 466.4 L1330.3 479.6 L1338.6 491.2 L1346.9 501.1 L1353.5 516 L1360.1 529.2 L1368.4 542.5 L1376.6 548.3 L1386.6 550.7 L1392.1 544.8 L1400.9 531.5 L1408.6 511.7 L1414.1 489.6 L1419.6 467.6 L1426.2 440 L1431.7 420 L1438.9 396.2 L1445.1 391 L1452.4 388.9 L1455.5 391 L1461.7 403.4 L1471 427.2 L1476.1 447.9 L1484.4 480 L1491.3 506.2 L1500.1 550.3 L1502.3 566.8 L1507.8 577.8 L1513.3 599.9 L1518.9 627.5 L1524.7 654.4 L1533 682.5 L1541.3 709 L1549.5 737.1 L1557.8 758.6 L1567.7 773.5 L1576 793.4 L1585.9 811.6 L1595.9 828.1 L1605.8 844.6 L1622.3 861.2 L1638.9 876.1 L1660 890.5 L1670.8 897.6 L1686.9 908.4 L1699.4 917.3 L1708.4 923.6 L1717.3 928.1 L1726.3 938.8 L1740.6 940.6 L1753.2 946 L1760.3 953.2 L1771.1 957.7 L1781.8 960.3 L1794.4 963.9 L1806.9 965.7 L1817.7 970.2 L1830.2 972.9 L1844.6 980 L1857.1 983.6 L1871.4 987.2 L1885.8 987.2 L1898.3 992.6 L1910 996.3 L1920.8 1001.7 L1936.9 1005.3 L1953 1010.6 L1960.2 1007 L1969.1 1014.2 L1981.7 1016 L1990.6 1023.2 L2008.5 1023.2 L2017.5 1025 L2021.1 1033 L2035.4 1026.8 L2053.3 1025.9 L2067.7 1028.5 L2089.2 1028.5 L2110.7 1030.3 L2142.9 1033.9 L2157.3 1030.3" fill="none" stroke="#5f5f5f" stroke-width="2.7" stroke-linejoin="round" stroke-linecap="round"/>
<path d="M1161.6 621.9 L1173.2 630.1 L1181.5 627.7 L1190.6 622.7 L1197.2 632.6 L1204.6 626 L1212.1 622.7 L1217.9 611.9 L1222 600.4 L1227.8 600.4 L1232.7 582.2 L1241 565.6 L1249.3 552.4 L1257.5 542.5 L1267.5 532.5 L1275.7 524.3 L1287.3 521 L1293.9 523.5 L1303 512.7 L1312.1 520.1 L1320.4 521.8 L1327 532.5 L1335.3 542.5 L1345.2 552.4 L1351.8 562.3 L1355.1 578.9 L1361.7 583.8 L1368.4 595.4 L1376.6 601.2 L1384 603.5 L1392.1 599.9 L1403.1 577.8 L1414.1 555.8 L1421.8 528.2 L1431.7 495.1 L1441.7 473.1 L1449.4 472 L1456 475.3 L1463.7 489.6 L1471.4 501.7 L1475.9 522.7 L1482.5 544.8 L1491.3 577.8 L1502.3 610.9 L1511.5 642.9 L1519.8 669.3 L1528 695.8 L1536.3 720.6 L1544.6 742.1 L1552.9 761.9 L1562.8 778.5 L1572.7 791.7 L1582.6 809.9 L1595.9 826.4 L1609.1 844.6 L1622.3 854.6 L1635.6 866.1 L1648.8 874.4 L1660 883.3 L1670.8 893.1 L1681.5 895.8 L1695.8 904.8 L1710.2 907.5 L1719.1 917.3 L1728.1 923.6 L1738.8 924.5 L1747.8 929 L1756.8 937 L1772.9 938.8 L1785.4 942.4 L1798 947.8 L1812.3 955 L1826.6 955 L1835.6 963.9 L1848.1 965.7 L1862.5 969.3 L1875 972.9 L1887.6 972.9 L1901.9 976.5 L1910 980.2 L1920.8 987.3 L1931.5 987.3 L1938.7 985.5 L1945.8 990.9 L1958.4 986.4 L1969.1 994.5 L1981.7 998.1 L1999.6 1001.7 L2013.9 1003.5 L2024.7 1023.2 L2039 1023.2 L2049.8 1019.6 L2065.9 1023.2 L2089.2 1021.4 L2107.1 1026.8 L2134 1026.8 L2157.3 1029.4" fill="none" stroke="#ff5656" stroke-width="2.7" stroke-linejoin="round" stroke-linecap="round"/>
<path d="M1161.6 640.1 L1171.5 645 L1183.1 648.3 L1191.4 646.7 L1198 652.5 L1207.9 640.1 L1214.5 636.7 L1221.2 618.6 L1227.8 611.9 L1232.7 597.1 L1241 582.2 L1249.3 570.6 L1257.5 560.7 L1267.5 549.1 L1277.4 540.8 L1287.3 533.4 L1292.3 534.2 L1298.1 540.8 L1304.7 530.1 L1313.8 535 L1320.4 540.8 L1327 549.1 L1335.3 557.4 L1341.9 568.9 L1348.5 573.9 L1355.1 590.4 L1363.4 602 L1370 608.6 L1378.3 613.6 L1386.6 612.8 L1392.1 613.1 L1400.9 597.7 L1409.7 577.8 L1418.5 550.3 L1427.3 528.2 L1434 508.4 L1442.8 490.7 L1453.8 488.5 L1460.4 500.6 L1469.2 515 L1474.8 533.7 L1483.6 559.1 L1491.3 588.9 L1502.3 627.5 L1506.5 634.6 L1523.1 685.9 L1539.6 732.2 L1556.2 773.5 L1572.7 806.6 L1589.2 831.4 L1605.8 847.9 L1622.3 857.9 L1638.9 871.1 L1660 884.3 L1670.8 894 L1681.5 896.8 L1695.8 905.8 L1710.2 908.5 L1719.1 918.3 L1728.1 924.6 L1738.8 925.5 L1747.8 930 L1756.8 938 L1772.9 939.8 L1785.4 943.4 L1798 948.8 L1812.3 956 L1826.6 956 L1835.6 964.9 L1848.1 966.7 L1862.5 970.3 L1875 973.9 L1887.6 973.9 L1901.9 977.5 L1910 980.2 L1920.8 987.3 L1931.5 987.3 L1938.7 985.5 L1945.8 990.9 L1958.4 986.4 L1969.1 994.5 L1981.7 998.1 L1999.6 1001.7 L2013.9 1003.5 L2024.7 1017.8 L2035.4 1021.4 L2049.8 1014.2 L2065.9 1023.2 L2089.2 1021.4 L2107.1 1026.8 L2134 1026.8 L2157.3 1029.4" fill="none" stroke="#2288f0" stroke-width="2.7" stroke-linejoin="round" stroke-linecap="round"/>
<path d="M1161.6 663.2 L1169.9 668.2 L1179.8 669.8 L1190.6 664.9 L1196.3 676.4 L1204.6 664.9 L1211.2 659.9 L1217.9 646.7 L1224.5 635.1 L1231.1 628.5 L1237.7 616.9 L1246 605.3 L1254.2 595.4 L1262.5 583.8 L1272.4 573.9 L1282.4 570.6 L1292.3 564 L1300.6 562.3 L1308.8 565.6 L1318.7 570.6 L1323.7 580.5 L1330.3 585.5 L1335.3 592.1 L1341.9 595.4 L1350.2 607 L1355.1 625.2 L1363.4 633.4 L1370 640.1 L1378.3 644.2 L1386.5 644.6 L1394.8 638.5 L1400.3 627.5 L1405.8 613.7 L1411.3 602.7 L1416.9 588.9 L1422.4 575.1 L1427.9 558.6 L1433.4 547.6 L1438.9 533.8 L1444.4 526.6 L1450 527.2 L1456 529.3 L1461.5 541.4 L1469.2 552.5 L1474.8 572.3 L1483.6 588.9 L1491.3 616.4 L1498.3 634.6 L1506.5 662.7 L1514.8 695.8 L1523.1 720.6 L1531.3 745.4 L1539.6 761.9 L1547.9 783.4 L1556.2 798.3 L1566.1 811.6 L1576 826.4 L1589.2 841.3 L1595.9 843 L1605.8 857.9 L1619 867.8 L1630.6 877.7 L1643.8 889.3 L1660 894 L1670.8 899.4 L1681.5 908.4 L1695.8 914.6 L1710.2 920.9 L1719.1 929.9 L1728.1 936.2 L1740.6 938.8 L1753.2 944.2 L1767.5 946.9 L1781.8 949.6 L1796.2 962.1 L1806.9 966.6 L1814.1 957.7 L1824.8 962.1 L1835.6 969.3 L1848.1 971.1 L1862.5 974.7 L1884 978.3 L1901.9 981.8 L1910 982 L1920.8 987.3 L1931.5 988.3 L1938.7 984.5 L1945.8 990.9 L1958.4 987.4 L1969.1 994.5 L1981.7 998.1 L1990.6 1007 L1999.6 1001.7 L2013.9 1003.5 L2021.1 1013.2 L2035.4 1012.4 L2049.8 1014.2 L2065.9 1023.2 L2089.2 1021.4 L2107.1 1026.8 L2134 1026.8 L2157.3 1029.4" fill="none" stroke="#00b97c" stroke-width="2.7" stroke-linejoin="round" stroke-linecap="round"/>
<rect x="1235" y="2305" width="1026" height="837" fill="#fcfcfc"/>
<line x1="1431.3" y1="2400" x2="1431.3" y2="3016" stroke="#2b2b2b" stroke-width="2.4" stroke-linecap="butt"/>
<line x1="1431.3" y1="3004.8" x2="2179.8" y2="3004.8" stroke="#2b2b2b" stroke-width="2.4" stroke-linecap="butt"/>
<line x1="1420.5" y1="2949.3" x2="1431.3" y2="2949.3" stroke="#2b2b2b" stroke-width="2.2" stroke-linecap="butt"/>
<text x="0" y="0" transform="translate(1410.6 2961.8)" font-family="'Liberation Serif', 'Times New Roman', serif" font-weight="bold" font-size="39.5" text-anchor="end" fill="#000">0.00</text>
<line x1="1420.5" y1="2812.2" x2="1431.3" y2="2812.2" stroke="#2b2b2b" stroke-width="2.2" stroke-linecap="butt"/>
<text x="0" y="0" transform="translate(1410.6 2824.7)" font-family="'Liberation Serif', 'Times New Roman', serif" font-weight="bold" font-size="39.5" text-anchor="end" fill="#000">0.05</text>
<line x1="1420.5" y1="2675.2" x2="1431.3" y2="2675.2" stroke="#2b2b2b" stroke-width="2.2" stroke-linecap="butt"/>
<text x="0" y="0" transform="translate(1410.6 2687.7)" font-family="'Liberation Serif', 'Times New Roman', serif" font-weight="bold" font-size="39.5" text-anchor="end" fill="#000">0.10</text>
<line x1="1420.5" y1="2538.1" x2="1431.3" y2="2538.1" stroke="#2b2b2b" stroke-width="2.2" stroke-linecap="butt"/>
<text x="0" y="0" transform="translate(1410.6 2550.6)" font-family="'Liberation Serif', 'Times New Roman', serif" font-weight="bold" font-size="39.5" text-anchor="end" fill="#000">0.15</text>
<line x1="1420.5" y1="2401" x2="1431.3" y2="2401" stroke="#2b2b2b" stroke-width="2.2" stroke-linecap="butt"/>
<text x="0" y="0" transform="translate(1410.6 2413.5)" font-family="'Liberation Serif', 'Times New Roman', serif" font-weight="bold" font-size="39.5" text-anchor="end" fill="#000">0.20</text>
<line x1="1426" y1="2880.8" x2="1431.3" y2="2880.8" stroke="#2b2b2b" stroke-width="2.2" stroke-linecap="butt"/>
<line x1="1426" y1="2743.7" x2="1431.3" y2="2743.7" stroke="#2b2b2b" stroke-width="2.2" stroke-linecap="butt"/>
<line x1="1426" y1="2606.6" x2="1431.3" y2="2606.6" stroke="#2b2b2b" stroke-width="2.2" stroke-linecap="butt"/>
<line x1="1426" y1="2469.5" x2="1431.3" y2="2469.5" stroke="#2b2b2b" stroke-width="2.2" stroke-linecap="butt"/>
<line x1="1431.3" y1="3004.8" x2="1431.3" y2="3016" stroke="#2b2b2b" stroke-width="2.2" stroke-linecap="butt"/>
<text x="0" y="0" transform="translate(1431.3 3056)" font-family="'Liberation Serif', 'Times New Roman', serif" font-weight="bold" font-size="39.5" text-anchor="middle" fill="#000">500</text>
<line x1="1618.3" y1="3004.8" x2="1618.3" y2="3016" stroke="#2b2b2b" stroke-width="2.2" stroke-linecap="butt"/>
<text x="0" y="0" transform="translate(1618.3 3056)" font-family="'Liberation Serif', 'Times New Roman', serif" font-weight="bold" font-size="39.5" text-anchor="middle" fill="#000">550</text>
<line x1="1805.2" y1="3004.8" x2="1805.2" y2="3016" stroke="#2b2b2b" stroke-width="2.2" stroke-linecap="butt"/>
<text x="0" y="0" transform="translate(1805.2 3056)" font-family="'Liberation Serif', 'Times New Roman', serif" font-weight="bold" font-size="39.5" text-anchor="middle" fill="#000">600</text>
<line x1="1992.2" y1="3004.8" x2="1992.2" y2="3016" stroke="#2b2b2b" stroke-width="2.2" stroke-linecap="butt"/>
<text x="0" y="0" transform="translate(1992.2 3056)" font-family="'Liberation Serif', 'Times New Roman', serif" font-weight="bold" font-size="39.5" text-anchor="middle" fill="#000">650</text>
<line x1="2179.2" y1="3004.8" x2="2179.2" y2="3016" stroke="#2b2b2b" stroke-width="2.2" stroke-linecap="butt"/>
<text x="0" y="0" transform="translate(2179.2 3056)" font-family="'Liberation Serif', 'Times New Roman', serif" font-weight="bold" font-size="39.5" text-anchor="middle" fill="#000">700</text>
<line x1="1524.8" y1="3004.8" x2="1524.8" y2="3010" stroke="#2b2b2b" stroke-width="2.2" stroke-linecap="butt"/>
<line x1="1711.8" y1="3004.8" x2="1711.8" y2="3010" stroke="#2b2b2b" stroke-width="2.2" stroke-linecap="butt"/>
<line x1="1898.7" y1="3004.8" x2="1898.7" y2="3010" stroke="#2b2b2b" stroke-width="2.2" stroke-linecap="butt"/>
<line x1="2085.7" y1="3004.8" x2="2085.7" y2="3010" stroke="#2b2b2b" stroke-width="2.2" stroke-linecap="butt"/>
<text x="0" y="0" transform="translate(1309 2878) rotate(-90)" font-family="'Liberation Serif', 'Times New Roman', serif" font-weight="bold" font-size="52.5" text-anchor="start" fill="#000">Optical Density</text>
<text x="0" y="0" transform="translate(1631.5 3125.5)" font-family="'Liberation Serif', 'Times New Roman', serif" font-weight="bold" font-size="47.3" text-anchor="start" fill="#000">Wavelength (nm)</text>
<text x="0" y="0" transform="translate(1881.5 2194.5)" font-family="'Liberation Serif', 'Times New Roman', serif" font-weight="bold" font-size="73" text-anchor="start" fill="#000">B</text>
<g clip-path="url(#clipB)">
<path d="M333.8 2774.8 C334.7 2770.7 337.9 2762.5 339.3 2750 C340.8 2737.5 341.4 2725 342.5 2700 C343.6 2675 345 2637.5 346 2600 C347 2562.5 347.8 2510 348.6 2475 C349.4 2440 349.8 2433.2 350.6 2390 C351.4 2346.8 352.9 2248.5 353.4 2216 C353.9 2183.5 353.5 2198.5 353.5 2195" fill="none" stroke="#ff8000" stroke-width="6.5" stroke-linejoin="round" stroke-linecap="round"/>
<path d="M439 2195 C439 2198.6 438.6 2184 439.1 2216.5 C439.6 2249 440.9 2342.8 442.2 2390 C443.5 2437.2 444.9 2465 447 2500 C449.1 2535 452.6 2566.7 455 2600 C457.4 2633.3 460.1 2675 461.5 2700 C462.9 2725 462.2 2723.3 463.6 2750 C465.1 2776.7 467.5 2819 470.2 2860.3 C472.9 2901.7 476.9 2963.7 479.9 2998.1 C482.9 3032.5 486 3050 488.2 3067 C490.4 3084 490.9 3089.9 493 3100 C495.1 3110.1 498 3118.4 500.6 3127.6 C503.2 3136.8 505.2 3146.4 508.9 3155.1 C512.6 3163.8 518.1 3172.1 522.7 3179.9 C527.3 3187.7 531.5 3192.8 536.5 3202 C541.5 3211.2 548.4 3224.5 553 3235.1 C557.6 3245.7 560.9 3255.8 564.1 3265.4 C567.3 3275.1 569.1 3283.8 572.3 3293 C575.5 3302.2 578.7 3311.3 583.3 3320.5 C587.9 3329.7 594.8 3339.8 599.9 3348.1 C605 3356.4 608.2 3364.2 613.7 3370.2 C619.2 3376.2 624.3 3380 633 3383.9 C641.7 3387.8 655.4 3391.3 666.1 3393.6 C676.8 3395.9 688.9 3397.4 697.2 3397.9 C705.5 3398.4 709 3396.2 715.7 3396.4 C722.5 3396.6 729.3 3396.6 737.7 3399.1 C746.1 3401.6 757.2 3407.9 766.1 3411.6 C775 3415.3 783.1 3418.1 790.9 3421.3 C798.7 3424.5 806.6 3428.8 813 3430.9 C819.4 3433 824.3 3434 829.5 3433.7 C834.7 3433.4 839.9 3431.3 844 3429 C848.1 3426.7 850.6 3424.1 854.4 3420 C858.2 3415.9 863.3 3410.7 866.8 3404.7 C870.2 3398.7 872.3 3391.7 875.1 3384.1 C877.9 3376.5 880.6 3368.3 883.4 3359.3 C886.2 3350.3 889.1 3340.7 891.7 3330.3 C894.3 3320 896.2 3305.9 899.1 3297.2 C902 3288.5 905.7 3283.6 908.8 3277.9 C911.9 3272.2 915.1 3264.8 917.9 3262.8 C920.7 3260.8 922.7 3264.2 925.5 3265.8 C928.3 3267.4 931.6 3271.1 934.6 3272.6 C937.6 3274.1 940.9 3275 943.7 3274.9 C946.5 3274.8 948.8 3275.2 951.3 3271.9 C953.8 3268.6 956.6 3261.3 958.9 3255.2 C961.2 3249.1 963.1 3242.3 965 3235.5 C966.9 3228.7 968.4 3219.5 970.3 3214.3 C972.2 3209.1 974.3 3204.7 976.3 3204.4 C978.3 3204.1 980.5 3207.5 982.4 3212.7 C984.3 3217.9 985.8 3226.7 987.7 3235.5 C989.6 3244.3 991.8 3255.7 993.8 3265.8 C995.8 3275.9 997.9 3286.7 999.8 3296.1 C1001.7 3305.5 1003.2 3313 1005 3322 C1006.8 3331 1008.6 3341.7 1010.3 3350 C1012 3358.3 1013.6 3365.1 1015 3372 C1016.4 3378.9 1017 3383.7 1018.6 3391.4 C1020.2 3399.1 1022.4 3409.4 1024.5 3418 C1026.6 3426.6 1028.2 3431.9 1031 3443 C1033.8 3454.1 1037.6 3470.6 1041.4 3484.4 C1045.2 3498.2 1049 3512.9 1053.8 3525.7 C1058.6 3538.4 1063.8 3550.6 1070.3 3560.9 C1076.8 3571.2 1084 3580.2 1093 3587.8 C1102 3595.4 1111.9 3601.6 1124 3606.4 C1136.1 3611.2 1151.6 3614.5 1165.4 3616.7 C1179.2 3618.9 1193 3619.5 1206.8 3619.8 C1220.6 3620.2 1232.6 3619 1248.1 3618.8 C1263.6 3618.6 1287.8 3619 1300 3618.8 C1312.2 3618.6 1312.7 3618.8 1321.4 3617.4 C1330.1 3616 1343.1 3613.1 1352.4 3610.2 C1361.7 3607.3 1369.6 3602.1 1377.2 3599.9 C1384.8 3597.7 1389.9 3596.5 1397.8 3596.8 C1405.7 3597.1 1415 3599.5 1424.7 3601.9 C1434.4 3604.3 1447.1 3609.6 1455.7 3611.2 C1464.3 3612.8 1469.5 3612.2 1476.4 3611.2 C1483.3 3610.2 1490.2 3606.4 1497.1 3605 C1504 3603.6 1509.2 3602.3 1517.8 3603 C1526.4 3603.7 1538.4 3607.5 1548.8 3609.2 C1559.2 3610.9 1569.5 3612.9 1580 3613.3 C1590.5 3613.7 1599.5 3612.6 1611.7 3611.6 C1623.9 3610.6 1640.9 3608.2 1653 3607.5 C1665.1 3606.8 1675.5 3606.8 1684.1 3607.5 C1692.7 3608.2 1697.8 3610.2 1704.7 3611.6 C1711.6 3613 1718.5 3614.4 1725.4 3615.8 C1732.3 3617.2 1737.5 3618.2 1746.1 3619.9 C1754.7 3621.6 1758.1 3625.1 1777.1 3626.1 C1796.1 3627.1 1822.8 3625.9 1860 3626.1 C1897.2 3626.2 1945 3626.8 2000 3627 C2055 3627.2 2158.3 3627.4 2190 3627.5" fill="none" stroke="#ff8000" stroke-width="6.5" stroke-linejoin="round" stroke-linecap="round"/>
<path d="M335.2 2901.6 C336.1 2896.1 339.1 2878.8 340.7 2868.5 C342.2 2858.2 343.4 2851.4 344.5 2840 C345.6 2828.6 346.5 2815 347.5 2800 C348.5 2785 349.5 2804.2 350.5 2750 C351.5 2695.8 352.7 2535 353.3 2475 C353.9 2415 353.6 2433.2 354.2 2390 C354.8 2346.8 356.2 2248.5 356.6 2216 C357 2183.5 356.7 2198.5 356.7 2195" fill="none" stroke="#ff0000" stroke-width="6.5" stroke-linejoin="round" stroke-linecap="round"/>
<path d="M441.3 2195 C441.3 2198.6 441.1 2184 441.5 2216.5 C441.9 2249 443.2 2342.8 444 2390 C444.8 2437.2 445.7 2465 446.5 2500 C447.3 2535 448.2 2566.7 449 2600 C449.8 2633.3 450.8 2673.3 451.5 2700 C452.2 2726.7 452.2 2733.3 453 2760 C453.8 2786.7 455.2 2820.6 456.3 2860.3 C457.4 2900 458.3 2958.2 459.5 2998.1 C460.7 3038 462.1 3069.2 463.5 3100 C464.9 3130.8 466 3155.1 467.6 3182.7 C469.2 3210.3 470.8 3237.8 473.1 3265.4 C475.4 3293 478.2 3327.4 481.4 3348.1 C484.6 3368.8 488.3 3381 492.4 3389.5 C496.5 3398 501.6 3399.6 506.2 3399.1 C510.8 3398.6 514.9 3392.9 519.9 3386.7 C524.9 3380.5 530.5 3373.4 536.5 3361.9 C542.5 3350.4 549.8 3328.4 555.8 3317.8 C561.8 3307.2 566.8 3300.8 572.3 3298.5 C577.8 3296.2 584.3 3300.3 588.9 3304 C593.5 3307.7 597 3312.8 599.9 3320.5 C602.8 3328.2 604.1 3338.1 606.5 3350 C608.9 3361.9 611.8 3380.3 614.5 3392 C617.2 3403.7 619.8 3410.1 622.5 3420 C625.2 3429.9 627.7 3438.5 631 3451.6 C634.3 3464.7 637.5 3484.7 642.1 3498.5 C646.7 3512.3 652.6 3525.6 658.6 3534.3 C664.6 3543 671 3549.5 677.9 3550.9 C684.8 3552.3 691.2 3548.6 699.9 3542.6 C708.6 3536.6 720.6 3524.2 730.3 3515 C739.9 3505.8 748.6 3497.6 757.8 3487.5 C767 3477.4 776.9 3465.7 785.4 3454.4 C793.9 3443.2 803 3429.7 809 3420 C815 3410.3 817.3 3404.6 821.4 3396.5 C825.5 3388.4 829.7 3380 833.8 3371.7 C837.9 3363.4 842.5 3355.1 846.2 3346.8 C849.9 3338.5 853.1 3330.3 856.1 3322 C859.1 3313.7 861.9 3304.8 864.4 3297.2 C866.9 3289.6 869.1 3282.7 871 3276.5 C872.9 3270.3 874.4 3265.6 875.9 3260 C877.4 3254.4 878.1 3254.8 880 3243.1 C881.9 3231.4 884.9 3208.6 887.4 3190 C889.9 3171.4 892.9 3148.7 895.2 3131.3 C897.5 3113.9 899.3 3099.7 901.3 3085.8 C903.3 3071.9 905.4 3060.5 907.3 3047.9 C909.2 3035.3 911.2 3021.6 912.6 3010 C914 2998.4 914.3 2988.3 915.8 2978.5 C917.2 2968.7 919 2959.4 921.3 2950.9 C923.6 2942.4 927.1 2936.2 929.6 2927.5 C932.1 2918.8 934.1 2908.2 936.5 2898.6 C938.9 2889 941.8 2886.4 944 2870 C946.2 2853.6 948.3 2820 950 2800 C951.7 2780 952.7 2766.7 954.3 2750 C955.9 2733.3 958 2723.3 959.5 2700 C961 2676.7 961.8 2640 963 2610 C964.2 2580 965.4 2548.3 966.5 2520 C967.6 2491.7 968.7 2466.7 969.8 2440 C970.9 2413.3 972.1 2385 973.2 2360 C974.3 2335 975.6 2307.3 976.6 2290 C977.6 2272.7 978.4 2263.8 979.3 2256 C980.2 2248.2 981.1 2243 982 2243 C982.9 2243 983.8 2248.2 984.7 2256 C985.6 2263.8 986.5 2272.7 987.4 2290 C988.3 2307.3 989.4 2335 990.3 2360 C991.2 2385 992.1 2413.3 993 2440 C993.9 2466.7 994.7 2491.7 995.5 2520 C996.3 2548.3 997.1 2580 998 2610 C998.9 2640 1000 2665 1001 2700 C1002 2735 1003 2786.7 1004 2820 C1005 2853.3 1006.1 2870 1007 2900 C1007.9 2930 1008.7 2966.7 1009.5 3000 C1010.3 3033.3 1011.1 3066.7 1012 3100 C1012.9 3133.3 1013.9 3170 1015 3200 C1016.1 3230 1017 3260.2 1018.5 3280 C1020 3299.8 1021.8 3303.1 1023.8 3318.9 C1025.8 3334.7 1027.9 3357.8 1030.5 3375 C1033.1 3392.2 1035.9 3404.2 1039.5 3422.4 C1043.1 3440.6 1047.2 3466.2 1052 3484.4 C1056.8 3502.7 1062.3 3517.8 1068.5 3531.9 C1074.7 3546 1081.2 3559.5 1089 3569.2 C1096.8 3578.8 1104.5 3584.5 1115.5 3589.8 C1126.5 3595.1 1139.9 3598.8 1155.1 3601.2 C1170.3 3603.6 1191.3 3604 1206.8 3604.3 C1222.3 3604.7 1232.6 3603.8 1248.1 3603.3 C1263.6 3602.8 1287.8 3601.2 1300 3601.2 C1312.2 3601.1 1314.4 3604.2 1321.4 3603 C1328.4 3601.8 1335.1 3599 1342 3593.7 C1348.9 3588.3 1355.8 3579.2 1362.7 3570.9 C1369.6 3562.6 1377 3551.1 1383.4 3544 C1389.8 3536.9 1395.8 3529.5 1401 3528.5 C1406.2 3527.5 1409.8 3531.1 1414.4 3537.8 C1419.1 3544.5 1423.7 3559.9 1428.9 3568.9 C1434.1 3577.9 1439.2 3586.8 1445.4 3591.6 C1451.6 3596.4 1459.9 3597.8 1466.1 3597.8 C1472.3 3597.8 1476.4 3597.1 1482.6 3591.6 C1488.8 3586.1 1496.8 3572.3 1503.3 3564.7 C1509.8 3557.1 1516.7 3547.5 1521.9 3546.1 C1527.1 3544.7 1529.8 3549.3 1534.3 3556.5 C1538.8 3563.7 1544.7 3581.6 1548.8 3589.5 C1552.9 3597.4 1554.7 3600.5 1559.1 3604 C1563.5 3607.5 1568 3608.7 1575 3610.5 C1582 3612.3 1586.7 3614.1 1601.4 3615 C1616.1 3615.9 1647.9 3616.3 1663.4 3616 C1678.9 3615.7 1687.5 3613.7 1694.4 3613 C1701.3 3612.3 1699.5 3612.9 1704.7 3611.6 C1709.9 3610.3 1719.9 3606.6 1725.4 3605.4 C1730.9 3604.2 1732.6 3603.4 1737.8 3604.4 C1743 3605.4 1749.9 3608.3 1756.4 3611.6 C1763 3614.9 1768.5 3621.4 1777.1 3624 C1785.7 3626.6 1794.2 3626.4 1808 3627 C1821.8 3627.6 1828 3627.3 1860 3627.5 C1892 3627.7 1945 3627.9 2000 3628 C2055 3628.1 2158.3 3628 2190 3628" fill="none" stroke="#ff0000" stroke-width="6.5" stroke-linejoin="round" stroke-linecap="round"/>
<path d="M335.2 2791.4 C335.9 2786.2 338.2 2771.9 339.5 2760 C340.8 2748.1 341.8 2746.7 343 2720 C344.2 2693.3 345.4 2640.8 346.5 2600 C347.6 2559.2 348.7 2510 349.5 2475 C350.3 2440 350.6 2433.2 351.4 2390 C352.2 2346.8 354 2248.5 354.5 2216 C355 2183.5 354.6 2198.5 354.6 2195" fill="none" stroke="#00e000" stroke-width="6.5" stroke-linejoin="round" stroke-linecap="round"/>
<path d="M446 2195 C446 2198.6 445.7 2184 446 2216.5 C446.3 2249 446.5 2342.8 447.6 2390 C448.7 2437.2 451.1 2465 452.5 2500 C453.9 2535 454.9 2566.7 456 2600 C457.1 2633.3 458.5 2675 459.3 2700 C460.1 2725 459.9 2723.3 461 2750 C462.1 2776.7 463.9 2819 466.1 2860.3 C468.3 2901.7 471.6 2961.3 474.4 2998.1 C477.1 3034.8 480.7 3063.8 482.6 3080.8 C484.5 3097.8 484.4 3089.9 486 3100 C487.6 3110.1 490 3127.6 492.4 3141.4 C494.8 3155.2 497.4 3169.8 500.6 3182.7 C503.8 3195.5 506.6 3208.8 511.7 3218.5 C516.8 3228.2 525 3233.7 531 3240.6 C537 3247.5 542.9 3254.4 547.5 3259.9 C552.1 3265.4 554.8 3268.2 558.5 3273.7 C562.2 3279.2 565.9 3284.3 569.6 3293 C573.3 3301.7 576.5 3315.5 580.6 3326.1 C584.7 3336.7 589.8 3344.5 594.4 3356.4 C599 3368.3 604.1 3386.7 608.2 3397.7 C612.3 3408.7 615.9 3417.1 619.2 3422.5 C622.5 3427.9 624.8 3427.7 628 3430 C631.2 3432.3 634.3 3434.5 638.5 3436.3 C642.7 3438.1 648.1 3439.7 653.1 3440.6 C658.1 3441.5 660.7 3442.5 668.8 3441.8 C676.9 3441.1 690.7 3439.3 701.9 3436.3 C713.1 3433.3 724.2 3427.9 735.8 3424 C747.4 3420.1 761.5 3416.3 771.6 3413 C781.7 3409.7 790.5 3405.7 796.5 3403.9 C802.5 3402.1 803.1 3404.2 807.3 3402.3 C811.4 3400.4 817 3396 821.4 3392.3 C825.8 3388.6 829.7 3384.7 833.8 3379.9 C837.9 3375.1 842.1 3369.6 846.2 3363.4 C850.3 3357.2 854.8 3350.3 858.6 3342.7 C862.5 3335.1 865.8 3326.8 869.3 3317.9 C872.8 3309 876 3298.7 879.3 3289 C882.6 3279.3 886.3 3269.8 889.2 3260 C892.1 3250.2 894.7 3240.8 896.7 3230 C898.8 3219.2 900 3206.4 901.5 3195 C903 3183.6 904.1 3173.5 905.8 3161.6 C907.5 3149.7 909.9 3136.3 911.9 3123.7 C913.9 3111.1 915.6 3098.4 917.9 3085.8 C920.2 3073.2 922.7 3060.5 925.5 3047.9 C928.3 3035.3 932.1 3022.7 934.6 3010 C937.1 2997.3 938.5 2984.9 940.6 2971.6 C942.8 2958.3 945.7 2942.9 947.5 2930.3 C949.3 2917.7 950.3 2909.6 951.6 2895.8 C952.9 2882 954.2 2860.2 955.1 2847.6 C956 2835 956.4 2829.6 957.2 2820 C958.1 2810.4 959.2 2799.9 960.2 2790 C961.2 2780.1 962.2 2775.5 963.2 2760.5 C964.2 2745.5 965.1 2724.6 966.3 2700 C967.5 2675.4 969.4 2639.7 970.6 2613 C971.8 2586.3 972.6 2559.7 973.6 2540 C974.6 2520.3 975.5 2508 976.5 2495 C977.5 2482 978.6 2469.1 979.5 2462 C980.4 2454.9 981.2 2452.5 982 2452.5 C982.8 2452.5 983.6 2454.9 984.5 2462 C985.4 2469.1 986.6 2482 987.5 2495 C988.4 2508 989.1 2520.3 990 2540 C990.9 2559.7 991.9 2586.3 993 2613 C994.1 2639.7 995.2 2665.5 996.5 2700 C997.8 2734.5 999.4 2786.7 1000.5 2820 C1001.6 2853.3 1002.1 2870 1003 2900 C1003.9 2930 1004.8 2966.7 1006 3000 C1007.2 3033.3 1008.7 3068.3 1010 3100 C1011.3 3131.7 1012.5 3163.3 1014 3190 C1015.5 3216.7 1017 3238.3 1019 3260 C1021 3281.7 1023.3 3305 1026 3320 C1028.7 3335 1032.7 3339.2 1035 3350 C1037.3 3360.8 1038.1 3374.7 1040 3385 C1041.9 3395.3 1042.8 3397.2 1046.2 3412 C1049.6 3426.8 1055.1 3455.2 1060.5 3474.1 C1065.9 3493 1072.1 3510.5 1078.6 3525.7 C1085 3540.8 1090.9 3554.7 1099.2 3565 C1107.5 3575.3 1117.2 3581.8 1128.2 3587.8 C1139.2 3593.8 1152.3 3598.1 1165.4 3601.2 C1178.5 3604.3 1184.4 3605.4 1206.8 3606.4 C1229.2 3607.4 1280.9 3607.3 1300 3607.4 C1319.1 3607.5 1314.4 3608.2 1321.4 3607 C1328.4 3605.8 1335.1 3604 1342 3600 C1348.9 3596 1355.8 3589.7 1362.7 3583 C1369.6 3576.3 1377 3566.2 1383.4 3560 C1389.8 3553.8 1395.8 3547.3 1401 3546.1 C1406.2 3544.9 1409.8 3547.7 1414.4 3553 C1419.1 3558.3 1423.7 3570.8 1428.9 3578 C1434.1 3585.2 1439.2 3592.2 1445.4 3596 C1451.6 3599.8 1459.9 3600.8 1466.1 3601 C1472.3 3601.2 1476.4 3600.8 1482.6 3597 C1488.8 3593.2 1496.8 3583 1503.3 3578 C1509.8 3573 1516.7 3567.3 1521.9 3566.8 C1527.1 3566.3 1529.8 3569.8 1534.3 3575 C1538.8 3580.2 1544.5 3593.1 1548.8 3598 C1553.1 3602.9 1551.2 3602.1 1560 3604.4 C1568.8 3606.7 1587.6 3610.2 1601.4 3611.6 C1615.2 3613 1628.9 3613 1642.7 3612.7 C1656.5 3612.4 1673.8 3611.5 1684.1 3609.6 C1694.4 3607.7 1697.8 3603.9 1704.7 3601.3 C1711.6 3598.7 1718.5 3594.8 1725.4 3594.1 C1732.3 3593.4 1739.2 3594.3 1746.1 3597.2 C1753 3600.1 1759.9 3607.6 1766.8 3611.6 C1773.7 3615.6 1777.1 3618.9 1787.4 3621 C1797.7 3623.1 1816.7 3623.3 1828.8 3624 C1840.9 3624.7 1831.5 3624.5 1860 3625.1 C1888.5 3625.7 1945 3627 2000 3627.5 C2055 3628 2158.3 3627.9 2190 3628" fill="none" stroke="#00e000" stroke-width="6.5" stroke-linejoin="round" stroke-linecap="round"/>
<path d="M335.2 2865.8 C336.1 2860.3 339.1 2847.4 340.7 2832.7 C342.3 2818 343.9 2791.4 344.8 2777.6 C345.7 2763.8 345.7 2762.9 346.2 2750 C346.7 2737.1 347.1 2745.8 348 2700 C348.9 2654.2 350.7 2526.7 351.6 2475 C352.5 2423.3 352.8 2433.2 353.6 2390 C354.4 2346.8 355.8 2248.5 356.3 2216 C356.8 2183.5 356.4 2198.5 356.4 2195" fill="none" stroke="#0000ff" stroke-width="6.5" stroke-linejoin="round" stroke-linecap="round"/>
<path d="M441.6 2195 C441.6 2198.6 441.3 2184 441.8 2216.5 C442.3 2249 443.3 2342.8 444.5 2390 C445.7 2437.2 447.8 2465 449 2500 C450.2 2535 451.1 2566.7 452 2600 C452.9 2633.3 453.5 2675 454.5 2700 C455.5 2725 456.8 2723.3 457.8 2750 C458.8 2776.7 459.5 2819 460.6 2860.3 C461.8 2901.7 463.5 2958.2 464.7 2998.1 C465.9 3038 465.8 3069.2 467.6 3100 C469.5 3130.8 473.1 3157.4 475.8 3182.7 C478.6 3208 480.9 3231.8 484.1 3251.6 C487.3 3271.3 491.4 3288.3 495.1 3301.2 C498.8 3314.1 503 3323.3 506.2 3328.8 C509.4 3334.3 511.2 3334.1 514.4 3334.3 C517.6 3334.5 520.9 3332.9 525.5 3330.2 C530.1 3327.4 536.5 3321.9 542 3317.8 C547.5 3313.7 553.9 3306.8 558.5 3305.4 C563.1 3304 565 3306.1 569.6 3309.5 C574.2 3312.9 581.1 3320.1 586.1 3326.1 C591.1 3332.1 596.2 3337 599.9 3345.3 C603.6 3353.6 605 3365.1 608.2 3375.7 C611.4 3386.3 616.3 3398.5 619.2 3408.8 C622.1 3419.2 623.2 3429.5 625.5 3437.8 C627.8 3446.1 630.7 3451.5 633 3458.4 C635.3 3465.3 635 3471.1 639.3 3479.2 C643.6 3487.3 652.2 3500.1 658.6 3506.8 C665 3513.5 670.5 3518.8 677.9 3519.2 C685.2 3519.6 694 3514.8 702.7 3509.5 C711.4 3504.2 721.1 3494.4 730.3 3487.5 C739.5 3480.6 749.5 3474.6 757.8 3468.2 C766.1 3461.8 773 3455.5 779.9 3448.9 C786.8 3442.3 793.4 3434.6 799.2 3428.8 C805.1 3423 809.9 3419.4 815 3414 C820.1 3408.6 824.4 3403.6 829.6 3396.5 C834.8 3389.4 841.4 3380 846.2 3371.7 C851 3363.4 855.2 3354.4 858.6 3346.8 C862 3339.2 864 3334.5 866.8 3326.2 C869.5 3317.9 872.8 3305.5 875.1 3297.2 C877.5 3288.9 879.2 3282.7 880.9 3276.5 C882.5 3270.3 883.4 3267.8 885 3260 C886.6 3252.2 888.8 3242.6 890.7 3230 C892.7 3217.4 894.7 3199.6 896.7 3184.4 C898.7 3169.2 900.8 3154.1 902.8 3138.9 C904.8 3123.7 906.5 3108.6 908.8 3093.4 C911.1 3078.2 914.2 3061.8 916.4 3047.9 C918.5 3034 919.7 3022.7 921.7 3010 C923.7 2997.3 926 2983.7 928.2 2971.6 C930.4 2959.5 933 2948.2 935.1 2937.2 C937.2 2926.2 939 2918.1 940.6 2905.5 C942.2 2892.9 943.4 2875.7 944.8 2861.4 C946.2 2847.2 947.6 2835.2 948.9 2820 C950.2 2804.8 951.1 2790 952.5 2770 C953.9 2750 956 2726.7 957.5 2700 C959 2673.3 960 2638.3 961.3 2610 C962.6 2581.7 964.1 2556.7 965.3 2530 C966.5 2503.3 967.4 2475 968.5 2450 C969.6 2425 970.5 2408.8 971.7 2380 C972.9 2351.2 974.3 2302.3 975.5 2277 C976.7 2251.7 977.9 2238.8 978.8 2228 C979.6 2217.2 980.1 2215.7 980.6 2212 C981.1 2208.3 981.5 2206 982 2206 C982.5 2206 982.9 2208.3 983.4 2212 C983.9 2215.7 984.4 2217.2 985.2 2228 C986.1 2238.8 987.5 2251.7 988.5 2277 C989.5 2302.3 990.4 2351.2 991.3 2380 C992.2 2408.8 993.2 2425 994 2450 C994.8 2475 995.1 2503.3 995.8 2530 C996.4 2556.7 997 2581.7 997.9 2610 C998.8 2638.3 999.9 2668.3 1001 2700 C1002.1 2731.7 1003.5 2766.7 1004.5 2800 C1005.5 2833.3 1006.1 2865 1007 2900 C1007.9 2935 1008.9 2976.7 1009.8 3010 C1010.7 3043.3 1011.4 3070 1012.5 3100 C1013.6 3130 1015.1 3163.3 1016.5 3190 C1017.9 3216.7 1019.1 3239.8 1021 3260 C1022.9 3280.2 1025.8 3296.3 1028 3311.3 C1030.2 3326.3 1031.5 3333.4 1034 3350 C1036.5 3366.6 1039.8 3390.3 1043.3 3411 C1046.8 3431.7 1050.5 3455 1055 3474.1 C1059.5 3493.2 1064.3 3510.2 1070.3 3525.7 C1076.3 3541.2 1082.7 3556.1 1091 3567.1 C1099.3 3578.1 1107.5 3585.5 1119.9 3591.9 C1132.3 3598.3 1149.2 3602.4 1165.4 3605.3 C1181.6 3608.2 1194.7 3609.3 1217.1 3609.5 C1239.5 3609.7 1282.6 3607 1300 3606.4 C1317.4 3605.8 1314.4 3607.4 1321.4 3606 C1328.4 3604.6 1335.1 3602.8 1342 3598 C1348.9 3593.2 1355.8 3585 1362.7 3577 C1369.6 3569 1377 3557.2 1383.4 3550 C1389.8 3542.8 1395.8 3535 1401 3533.7 C1406.2 3532.4 1409.8 3535.4 1414.4 3542 C1419.1 3548.6 1423.7 3564.2 1428.9 3573 C1434.1 3581.8 1439.2 3590.3 1445.4 3595 C1451.6 3599.7 1459.9 3601 1466.1 3601 C1472.3 3601 1476.4 3600.3 1482.6 3595 C1488.8 3589.7 1496.8 3576.4 1503.3 3569 C1509.8 3561.6 1516.7 3551.6 1521.9 3550.3 C1527.1 3549 1529.8 3553.7 1534.3 3561 C1538.8 3568.3 1544.5 3586.1 1548.8 3594 C1553.1 3601.9 1551.2 3604.7 1560 3608.5 C1568.8 3612.3 1584.2 3615.2 1601.4 3616.8 C1618.6 3618.4 1647.9 3618.7 1663.4 3617.8 C1678.9 3616.9 1685.8 3614.2 1694.4 3611.6 C1703 3609 1708.2 3604.4 1715.1 3602.3 C1722 3600.2 1728.8 3598.7 1735.7 3599.2 C1742.6 3599.7 1749.5 3601.9 1756.4 3605.4 C1763.3 3608.9 1768.5 3616.5 1777.1 3619.9 C1785.7 3623.3 1794.3 3624.8 1808.1 3626.1 C1821.9 3627.4 1828 3627.1 1860 3627.5 C1892 3627.9 1945 3628.3 2000 3628.5 C2055 3628.7 2158.3 3628.5 2190 3628.5" fill="none" stroke="#0000ff" stroke-width="6.5" stroke-linejoin="round" stroke-linecap="round"/>
<path d="M336.5 2952.6 C337.4 2948.7 340.4 2942.3 342 2929.2 C343.6 2916.1 345.1 2892.4 346.2 2874 C347.3 2855.6 348 2839.6 348.9 2818.9 C349.8 2798.2 350.8 2807.2 351.7 2750 C352.6 2692.8 353.7 2535.7 354.3 2475.7 C354.9 2415.7 354.7 2433.2 355.3 2390 C355.9 2346.8 357.4 2249 357.8 2216.5 C358.2 2184 357.9 2198.6 357.9 2195" fill="none" stroke="#000000" stroke-width="7" stroke-linejoin="round" stroke-linecap="round"/>
<path d="M441 2195 C441 2198.6 440.7 2184 441.2 2216.5 C441.7 2249 443.2 2342.8 444 2390 C444.8 2437.2 445.3 2465 446 2500 C446.7 2535 447.3 2566.7 448 2600 C448.7 2633.3 449.3 2673.3 450 2700 C450.7 2726.7 451.1 2733.3 452 2760 C452.9 2786.7 454.1 2820.6 455.1 2860.3 C456.1 2900 456.6 2958.2 457.8 2998.1 C459 3038 460.9 3069.2 462.1 3100 C463.3 3130.8 463.7 3155.1 464.8 3182.7 C465.9 3210.3 467.3 3240.1 468.9 3265.4 C470.5 3290.7 472.4 3313.6 474.5 3334.3 C476.6 3355 478.9 3375.2 481.4 3389.5 C483.9 3403.8 486.4 3413.4 489.6 3419.8 C492.8 3426.2 496.9 3428 500.6 3428 C504.3 3428 507.1 3426.2 511.7 3419.8 C516.3 3413.4 522.7 3401.4 528.2 3389.5 C533.7 3377.6 539.3 3361.4 544.8 3348.1 C550.3 3334.8 556.2 3318.7 561.3 3309.5 C566.3 3300.3 570.5 3294.8 575.1 3293 C579.7 3291.2 585 3295.8 588.9 3298.5 C592.8 3301.2 595.8 3301.2 598.5 3309.5 C601.2 3317.8 602.9 3334.8 605.4 3348.1 C607.9 3361.4 611 3378 613.7 3389.5 C616.5 3401 619.1 3405.5 621.9 3417 C624.6 3428.5 627.7 3445.4 630.2 3458.4 C632.7 3471.4 633.8 3481.4 637.1 3495 C640.5 3508.6 645.8 3528.2 650.3 3539.8 C654.8 3551.4 659.5 3559.1 664.1 3564.6 C668.7 3570.1 672.4 3572.7 677.9 3572.9 C683.4 3573.1 690.3 3570.6 697.2 3566 C704.1 3561.4 711.4 3553.8 719.2 3545.3 C727 3536.8 735.4 3526.5 744.1 3515 C752.8 3503.5 763.8 3488.3 771.6 3476.4 C779.4 3464.5 785.8 3452.7 790.9 3443.3 C796 3433.9 798.3 3428.5 802 3420 C805.7 3411.5 809.6 3401.7 813.1 3392.3 C816.6 3382.9 819.7 3372.4 823 3363.4 C826.3 3354.4 829.6 3347.6 832.9 3338.6 C836.2 3329.6 840 3318.6 842.9 3309.6 C845.8 3300.6 847.8 3293.1 850.3 3284.8 C852.8 3276.5 855.3 3268.2 857.7 3260 C860.1 3251.8 862.4 3245.6 864.9 3235.5 C867.4 3225.4 870.2 3211.8 872.5 3199.5 C874.8 3187.2 876.5 3175.5 878.5 3161.6 C880.5 3147.7 882.6 3131.2 884.6 3116.1 C886.6 3100.9 889 3086.7 890.7 3070.7 C892.5 3054.7 893.7 3036.5 895.1 3020 C896.5 3003.5 897.9 2986.5 899.3 2971.6 C900.7 2956.7 901.8 2944.1 903.4 2930.3 C905 2916.5 907.1 2901.3 908.9 2888.9 C910.7 2876.5 912.2 2864.1 914.4 2855.8 C916.6 2847.5 919.7 2840.7 922 2839.3 C924.3 2837.9 926 2842.1 928.2 2847.6 C930.4 2853.1 933 2864.6 935.1 2872.4 C937.2 2880.2 938.8 2889.4 940.6 2894.4 C942.4 2899.4 944.3 2903.1 946.1 2902.7 C947.9 2902.2 950 2898.6 951.6 2891.7 C953.2 2884.8 954.4 2873.3 955.8 2861.4 C957.2 2849.5 958.7 2835.2 959.9 2820 C961.1 2804.8 962.1 2790 963.2 2770 C964.4 2750 965.4 2726.7 966.8 2700 C968.2 2673.3 970.3 2638.3 971.8 2610 C973.3 2581.7 974.4 2549.3 975.6 2530 C976.8 2510.7 977.7 2502.6 978.8 2494 C979.9 2485.4 980.9 2478.5 982 2478.5 C983.1 2478.5 984.2 2485.4 985.2 2494 C986.2 2502.6 986.8 2510.7 987.8 2530 C988.8 2549.3 989.8 2581.7 991 2610 C992.2 2638.3 993.5 2665 994.8 2700 C996 2735 997.4 2788.5 998.5 2820 C999.6 2851.5 1000.4 2865.9 1001.3 2888.9 C1002.2 2911.9 1003.3 2936.8 1004 2957.8 C1004.7 2978.8 1005.1 2993.7 1005.5 3015 C1005.9 3036.3 1006 3061.4 1006.6 3085.8 C1007.2 3110.2 1008.2 3142.6 1008.9 3161.6 C1009.6 3180.6 1010.2 3186.9 1011 3200 C1011.8 3213.1 1012.8 3225 1013.5 3240 C1014.2 3255 1014.8 3273.1 1015.5 3290 C1016.2 3306.9 1017.2 3328.3 1018 3341.6 C1018.8 3354.9 1019.4 3358.4 1020.5 3370 C1021.6 3381.6 1023 3395.4 1024.8 3411 C1026.5 3426.6 1028.6 3447 1031 3463.7 C1033.4 3480.4 1036.2 3497.5 1039.3 3511.3 C1042.4 3525.1 1045.1 3536.1 1049.6 3546.4 C1054.1 3556.7 1060 3565.7 1066.2 3573.3 C1072.4 3580.9 1078.9 3587.1 1086.8 3591.9 C1094.7 3596.7 1104 3599.3 1113.7 3602.2 C1123.4 3605.1 1132.6 3607.4 1144.7 3609.5 C1156.8 3611.6 1172.3 3613.6 1186.1 3614.6 C1199.9 3615.6 1213.6 3615.9 1227.4 3615.7 C1241.2 3615.5 1256.7 3614.1 1268.8 3613.6 C1280.9 3613.1 1291.2 3613 1300 3612.6 C1308.8 3612.2 1314.4 3612.6 1321.4 3611.2 C1328.4 3609.8 1335.1 3608.3 1342 3604 C1348.9 3599.7 1355.8 3592 1362.7 3585.4 C1369.6 3578.8 1377 3570.2 1383.4 3564.7 C1389.8 3559.2 1395.8 3553 1401 3552.3 C1406.2 3551.6 1409.8 3555.4 1414.4 3560.6 C1419.1 3565.8 1423.7 3576.8 1428.9 3583.3 C1434.1 3589.9 1439.2 3596.5 1445.4 3599.9 C1451.6 3603.3 1459.9 3604 1466.1 3604 C1472.3 3604 1476.4 3604 1482.6 3599.9 C1488.8 3595.8 1496.8 3585.1 1503.3 3579.2 C1509.8 3573.3 1516.7 3565 1521.9 3564.7 C1527.1 3564.3 1529.8 3570.2 1534.3 3577.1 C1538.8 3584 1543.6 3599.2 1548.8 3606.1 C1554 3613 1560.1 3616.1 1565.3 3618.5 C1570.5 3620.9 1574 3620.1 1580 3620.5 C1586 3620.9 1587.5 3620.6 1601.4 3621 C1615.3 3621.4 1642.7 3622 1663.4 3623 C1684.1 3624 1704.7 3626 1725.4 3627.2 C1746.1 3628.4 1765 3629.6 1787.4 3630.3 C1809.8 3631 1824.6 3631.3 1860 3631.3 C1895.4 3631.3 1945 3630.9 2000 3630.5 C2055 3630.1 2158.3 3629.2 2190 3629" fill="none" stroke="#000000" stroke-width="7" stroke-linejoin="round" stroke-linecap="round"/>
</g>
<line x1="320.6" y1="2212.3" x2="320.6" y2="3753" stroke="#000" stroke-width="5.5" stroke-linecap="butt"/>
<line x1="306.5" y1="3724.3" x2="2193.5" y2="3724.3" stroke="#000" stroke-width="5.5" stroke-linecap="butt"/>
<line x1="291" y1="3628.5" x2="320.6" y2="3628.5" stroke="#000" stroke-width="5" stroke-linecap="butt"/>
<text x="0" y="0" transform="translate(271.5 3648) scale(1 1.04)" font-family="'Liberation Sans', Arial, sans-serif" font-weight="bold" font-size="64" text-anchor="end" fill="#000">0.0</text>
<line x1="291" y1="3440" x2="320.6" y2="3440" stroke="#000" stroke-width="5" stroke-linecap="butt"/>
<text x="0" y="0" transform="translate(271.5 3459.5) scale(1 1.04)" font-family="'Liberation Sans', Arial, sans-serif" font-weight="bold" font-size="64" text-anchor="end" fill="#000">0.2</text>
<line x1="291" y1="3251.5" x2="320.6" y2="3251.5" stroke="#000" stroke-width="5" stroke-linecap="butt"/>
<text x="0" y="0" transform="translate(271.5 3271) scale(1 1.04)" font-family="'Liberation Sans', Arial, sans-serif" font-weight="bold" font-size="64" text-anchor="end" fill="#000">0.4</text>
<line x1="291" y1="3063" x2="320.6" y2="3063" stroke="#000" stroke-width="5" stroke-linecap="butt"/>
<text x="0" y="0" transform="translate(271.5 3082.5) scale(1 1.04)" font-family="'Liberation Sans', Arial, sans-serif" font-weight="bold" font-size="64" text-anchor="end" fill="#000">0.6</text>
<line x1="291" y1="2874.5" x2="320.6" y2="2874.5" stroke="#000" stroke-width="5" stroke-linecap="butt"/>
<text x="0" y="0" transform="translate(271.5 2894) scale(1 1.04)" font-family="'Liberation Sans', Arial, sans-serif" font-weight="bold" font-size="64" text-anchor="end" fill="#000">0.8</text>
<line x1="291" y1="2686" x2="320.6" y2="2686" stroke="#000" stroke-width="5" stroke-linecap="butt"/>
<text x="0" y="0" transform="translate(271.5 2705.5) scale(1 1.04)" font-family="'Liberation Sans', Arial, sans-serif" font-weight="bold" font-size="64" text-anchor="end" fill="#000">1.0</text>
<line x1="291" y1="2497.5" x2="320.6" y2="2497.5" stroke="#000" stroke-width="5" stroke-linecap="butt"/>
<text x="0" y="0" transform="translate(271.5 2517) scale(1 1.04)" font-family="'Liberation Sans', Arial, sans-serif" font-weight="bold" font-size="64" text-anchor="end" fill="#000">1.2</text>
<line x1="291" y1="2309" x2="320.6" y2="2309" stroke="#000" stroke-width="5" stroke-linecap="butt"/>
<text x="0" y="0" transform="translate(271.5 2328.5) scale(1 1.04)" font-family="'Liberation Sans', Arial, sans-serif" font-weight="bold" font-size="64" text-anchor="end" fill="#000">1.4</text>
<line x1="306.5" y1="3534.2" x2="320.6" y2="3534.2" stroke="#000" stroke-width="5" stroke-linecap="butt"/>
<line x1="306.5" y1="3345.8" x2="320.6" y2="3345.8" stroke="#000" stroke-width="5" stroke-linecap="butt"/>
<line x1="306.5" y1="3157.2" x2="320.6" y2="3157.2" stroke="#000" stroke-width="5" stroke-linecap="butt"/>
<line x1="306.5" y1="2968.8" x2="320.6" y2="2968.8" stroke="#000" stroke-width="5" stroke-linecap="butt"/>
<line x1="306.5" y1="2780.2" x2="320.6" y2="2780.2" stroke="#000" stroke-width="5" stroke-linecap="butt"/>
<line x1="306.5" y1="2591.8" x2="320.6" y2="2591.8" stroke="#000" stroke-width="5" stroke-linecap="butt"/>
<line x1="306.5" y1="2403.2" x2="320.6" y2="2403.2" stroke="#000" stroke-width="5" stroke-linecap="butt"/>
<line x1="306.5" y1="2214.8" x2="320.6" y2="2214.8" stroke="#000" stroke-width="5" stroke-linecap="butt"/>
<line x1="320.6" y1="3724.3" x2="320.6" y2="3753" stroke="#000" stroke-width="5" stroke-linecap="butt"/>
<text x="0" y="0" transform="translate(320.6 3823) scale(1 1.04)" font-family="'Liberation Sans', Arial, sans-serif" font-weight="bold" font-size="64" text-anchor="middle" fill="#000">200</text>
<line x1="632.2" y1="3724.3" x2="632.2" y2="3753" stroke="#000" stroke-width="5" stroke-linecap="butt"/>
<text x="0" y="0" transform="translate(632.2 3823) scale(1 1.04)" font-family="'Liberation Sans', Arial, sans-serif" font-weight="bold" font-size="64" text-anchor="middle" fill="#000">300</text>
<line x1="943.9" y1="3724.3" x2="943.9" y2="3753" stroke="#000" stroke-width="5" stroke-linecap="butt"/>
<text x="0" y="0" transform="translate(943.9 3823) scale(1 1.04)" font-family="'Liberation Sans', Arial, sans-serif" font-weight="bold" font-size="64" text-anchor="middle" fill="#000">400</text>
<line x1="1255.5" y1="3724.3" x2="1255.5" y2="3753" stroke="#000" stroke-width="5" stroke-linecap="butt"/>
<text x="0" y="0" transform="translate(1255.5 3823) scale(1 1.04)" font-family="'Liberation Sans', Arial, sans-serif" font-weight="bold" font-size="64" text-anchor="middle" fill="#000">500</text>
<line x1="1567.2" y1="3724.3" x2="1567.2" y2="3753" stroke="#000" stroke-width="5" stroke-linecap="butt"/>
<text x="0" y="0" transform="translate(1567.2 3823) scale(1 1.04)" font-family="'Liberation Sans', Arial, sans-serif" font-weight="bold" font-size="64" text-anchor="middle" fill="#000">600</text>
<line x1="1878.8" y1="3724.3" x2="1878.8" y2="3753" stroke="#000" stroke-width="5" stroke-linecap="butt"/>
<text x="0" y="0" transform="translate(1878.8 3823) scale(1 1.04)" font-family="'Liberation Sans', Arial, sans-serif" font-weight="bold" font-size="64" text-anchor="middle" fill="#000">700</text>
<line x1="2190.5" y1="3724.3" x2="2190.5" y2="3753" stroke="#000" stroke-width="5" stroke-linecap="butt"/>
<text x="0" y="0" transform="translate(2190.5 3823) scale(1 1.04)" font-family="'Liberation Sans', Arial, sans-serif" font-weight="bold" font-size="64" text-anchor="middle" fill="#000">800</text>
<line x1="476.4" y1="3724.3" x2="476.4" y2="3738" stroke="#000" stroke-width="5" stroke-linecap="butt"/>
<line x1="788.1" y1="3724.3" x2="788.1" y2="3738" stroke="#000" stroke-width="5" stroke-linecap="butt"/>
<line x1="1099.7" y1="3724.3" x2="1099.7" y2="3738" stroke="#000" stroke-width="5" stroke-linecap="butt"/>
<line x1="1411.4" y1="3724.3" x2="1411.4" y2="3738" stroke="#000" stroke-width="5" stroke-linecap="butt"/>
<line x1="1723" y1="3724.3" x2="1723" y2="3738" stroke="#000" stroke-width="5" stroke-linecap="butt"/>
<line x1="2034.7" y1="3724.3" x2="2034.7" y2="3738" stroke="#000" stroke-width="5" stroke-linecap="butt"/>
<text x="0" y="0" transform="translate(145.5 3305) rotate(-90) scale(1 1.04)" font-family="'Liberation Sans', Arial, sans-serif" font-weight="bold" font-size="92.6" text-anchor="start" fill="#000">Optical Density</text>
<text x="0" y="0" transform="translate(885.5 3964) scale(1 1.04)" font-family="'Liberation Sans', Arial, sans-serif" font-weight="bold" font-size="92.4" text-anchor="start" fill="#000">Wavelength (nm)</text>
<path d="M1435 2921.7 H1438.8 V2921.3 H1442.5 V2920.9 H1446.3 V2920.5 H1450 V2920.1 H1453.7 V2919.7 H1457.5 V2919.3 H1461.2 V2918.9 H1465 V2918.5 H1468.7 V2918.2 H1472.4 V2917.9 H1476.2 V2917.6 H1479.9 V2917.4 H1483.7 V2917.3 H1487.4 V2917.1 H1491.1 V2917 H1494.9 V2916.8 H1498.6 V2916.5 H1502.4 V2916.2 H1506.1 V2915.8 H1509.8 V2915.2 H1513.6 V2914.3 H1517.3 V2913.2 H1521 V2911.6 H1524.8 V2909.5 H1528.5 V2906.9 H1532.3 V2904 H1536 V2900.7 H1539.7 V2897 H1543.5 V2893 H1547.2 V2888.9 H1551 V2885.2 H1554.7 V2881.7 H1558.4 V2878.2 H1562.2 V2874.8 H1565.9 V2871.7 H1569.7 V2869.2 H1573.4 V2867.1 H1577.1 V2865.6 H1580.9 V2864.5 H1584.6 V2863.5 H1588.4 V2862.9 H1592.1 V2862.4 H1595.8 V2862.3 H1599.6 V2862.5 H1603.3 V2863.3 H1607.1 V2865 H1610.8 V2867.3 H1614.5 V2869.7 H1618.3 V2872.4 H1622 V2875.5 H1625.8 V2878.6 H1629.5 V2881.8 H1633.2 V2884.8 H1637 V2887.4 H1640.7 V2890 H1644.5 V2892.5 H1648.2 V2894.8 H1651.9 V2896.8 H1655.7 V2898.5 H1659.4 V2899.8 H1663.1 V2900.8 H1666.9 V2901.5 H1670.6 V2902.1 H1674.4 V2902.4 H1678.1 V2902.7 H1681.8 V2902.9 H1685.6 V2903 H1689.3 V2902.8 H1693.1 V2902.4 H1696.8 V2901.5 H1700.5 V2900 H1704.3 V2897.9 H1708 V2895.4 H1711.8 V2892.8 H1715.5 V2890.3 H1719.2 V2887.9 H1723 V2885.3 H1726.7 V2882.9 H1730.5 V2881 H1734.2 V2879.7 H1737.9 V2879.4 H1741.7 V2879.8 H1745.4 V2880.6 H1749.2 V2881.7 H1752.9 V2883.2 H1756.6 V2884.9 H1760.4 V2887.1 H1764.1 V2889.5 H1767.9 V2891.6 H1771.6 V2893.5 H1775.3 V2895.2 H1779.1 V2896.8 H1782.8 V2898.3 H1786.6 V2899.7 H1790.3 V2900.9 H1794 V2902 H1797.8 V2903 H1801.5 V2903.8 H1805.2 V2904.5 H1809 V2905 H1812.7 V2905.5 H1816.5 V2906 H1820.2 V2906.4 H1823.9 V2906.8 H1827.7 V2907.1 H1831.4 V2907.4 H1835.2 V2907.5 H1838.9 V2907.5 H1842.6 V2907.4 H1846.4 V2907 H1850.1 V2906.5 H1853.9 V2905.8 H1857.6 V2905 H1861.3 V2904.1 H1865.1 V2903.2 H1868.8 V2902.3 H1872.6 V2901.5 H1876.3 V2900.7 H1880 V2899.9 H1883.8 V2899.1 H1887.5 V2898.3 H1891.3 V2897.5 H1895 V2896.8 H1898.7 V2896 H1902.5 V2895.4 H1906.2 V2894.8 H1910 V2894.4 H1913.7 V2894.1 H1917.4 V2894 H1921.2 V2894 H1924.9 V2894 H1928.7 V2894 H1932.4 V2894.1 H1936.1 V2894.3 H1939.9 V2894.5 H1943.6 V2894.8 H1947.4 V2895.1 H1951.1 V2895.4 H1954.8 V2895.6 H1958.6 V2896 H1962.3 V2896.4 H1966 V2896.9 H1969.8 V2897.7 H1973.5 V2898.7 H1977.3 V2899.9 H1981 V2901.1 H1984.7 V2902.5 H1988.5 V2903.8 H1992.2 V2905.3 H1996 V2906.9 H1999.7 V2908.9 H2003.4 V2911.3 H2007.2 V2914.1 H2010.9 V2916.9 H2014.7 V2919.9 H2018.4 V2922.8 H2022.1 V2925.5 H2025.9 V2928 H2029.6 V2930.2 H2033.4 V2932.2 H2037.1 V2934 H2040.8 V2935.6 H2044.6 V2937.1 H2048.3 V2938.5 H2052.1 V2939.8 H2055.8 V2940.9 H2059.5 V2941.9 H2063.3 V2942.8 H2067 V2943.6 H2070.8 V2944.2 H2074.5 V2944.7 H2078.2 V2945.2 H2082 V2945.6 H2085.7 V2946 H2089.5 V2946.3 H2093.2 V2946.7 H2096.9 V2947 H2100.7 V2947.3 H2104.4 V2947.6 H2108.1 V2947.9 H2111.9 V2948.2 H2115.6 V2948.4 H2119.4 V2948.7 H2123.1 V2948.9 H2126.8 V2949.1 H2130.6 V2949.2 H2134.3 V2949.4 H2138.1 V2949.5 H2141.8 V2949.6 H2145.5 V2949.7 H2149.3 V2949.8 H2153 V2949.9 H2156.8 V2950 H2160.5 V2950.1 H2164.2 V2950.2 H2168 V2950.3 H2171.7 V2950.4 H2175.5 V2950.5 H2179.2" fill="none" stroke="#ff8000" stroke-width="2.6" stroke-linejoin="miter" stroke-linecap="butt"/>
<path d="M1435 2878.8 H1438.8 V2878 H1442.5 V2877.2 H1446.3 V2876.5 H1450 V2875.8 H1453.7 V2875.2 H1457.5 V2874.8 H1461.2 V2874.7 H1465 V2874.9 H1468.7 V2875.5 H1472.4 V2876.4 H1476.2 V2877.2 H1479.9 V2877.8 H1483.7 V2878.4 H1487.4 V2879 H1491.1 V2879.6 H1494.9 V2880 H1498.6 V2880 H1502.4 V2879.4 H1506.1 V2878.1 H1509.8 V2875.9 H1513.6 V2872.8 H1517.3 V2869.2 H1521 V2865.1 H1524.8 V2860.5 H1528.5 V2855.4 H1532.3 V2849.7 H1536 V2843.1 H1539.7 V2835.4 H1543.5 V2827.1 H1547.2 V2818.5 H1551 V2809.4 H1554.7 V2799.6 H1558.4 V2788.9 H1562.2 V2777.3 H1565.9 V2765.1 H1569.7 V2752.7 H1573.4 V2739.7 H1577.1 V2726.5 H1580.9 V2713.3 H1584.6 V2699.7 H1588.4 V2686.3 H1592.1 V2675.6 H1595.8 V2667.3 H1599.6 V2661.9 H1603.3 V2660.9 H1607.1 V2664.4 H1610.8 V2671.7 H1614.5 V2683 H1618.3 V2698.7 H1622 V2714.8 H1625.8 V2729.2 H1629.5 V2743.3 H1633.2 V2757.3 H1637 V2771.7 H1640.7 V2786 H1644.5 V2800.1 H1648.2 V2814.6 H1651.9 V2827.6 H1655.7 V2837.9 H1659.4 V2846.4 H1663.1 V2853.2 H1666.9 V2858.2 H1670.6 V2861.7 H1674.4 V2864 H1678.1 V2865.2 H1681.8 V2865.3 H1685.6 V2864.6 H1689.3 V2862.7 H1693.1 V2859.3 H1696.8 V2854.2 H1700.5 V2847.9 H1704.3 V2840.4 H1708 V2831.5 H1711.8 V2820.9 H1715.5 V2806.9 H1719.2 V2790.7 H1723 V2774.9 H1726.7 V2759.7 H1730.5 V2744.6 H1734.2 V2731.1 H1737.9 V2720.7 H1741.7 V2713.2 H1745.4 V2710.1 H1749.2 V2712 H1752.9 V2718.1 H1756.6 V2727.2 H1760.4 V2740.4 H1764.1 V2757.6 H1767.9 V2777.2 H1771.6 V2798.2 H1775.3 V2817.9 H1779.1 V2836.5 H1782.8 V2853.5 H1786.6 V2867.9 H1790.3 V2880.2 H1794 V2888.7 H1797.8 V2894.1 H1801.5 V2897.5 H1805.2 V2899.9 H1809 V2901.8 H1812.7 V2903.8 H1816.5 V2905.5 H1820.2 V2907 H1823.9 V2908.2 H1827.7 V2909.3 H1831.4 V2910.2 H1835.2 V2911.1 H1838.9 V2911.9 H1842.6 V2912.6 H1846.4 V2913.3 H1850.1 V2913.9 H1853.9 V2914.5 H1857.6 V2915 H1861.3 V2915.4 H1865.1 V2915.9 H1868.8 V2916.3 H1872.6 V2916.6 H1876.3 V2917 H1880 V2917.3 H1883.8 V2917.6 H1887.5 V2917.9 H1891.3 V2918.1 H1895 V2918.4 H1898.7 V2918.6 H1902.5 V2918.7 H1906.2 V2918.8 H1910 V2919 H1913.7 V2919.1 H1917.4 V2919.3 H1921.2 V2919.3 H1924.9 V2919.3 H1928.7 V2919 H1932.4 V2918.6 H1936.1 V2917.7 H1939.9 V2916.4 H1943.6 V2914.4 H1947.4 V2911.8 H1951.1 V2908.8 H1954.8 V2905.8 H1958.6 V2902.9 H1962.3 V2899.9 H1966 V2896.6 H1969.8 V2893.3 H1973.5 V2890.2 H1977.3 V2887.3 H1981 V2884.4 H1984.7 V2881.6 H1988.5 V2879.2 H1992.2 V2877.3 H1996 V2876.1 H1999.7 V2875.8 H2003.4 V2876.2 H2007.2 V2877.1 H2010.9 V2878.7 H2014.7 V2881.3 H2018.4 V2884.9 H2022.1 V2889.2 H2025.9 V2893.8 H2029.6 V2898.3 H2033.4 V2903.1 H2037.1 V2907.9 H2040.8 V2912.5 H2044.6 V2917 H2048.3 V2921.4 H2052.1 V2925.5 H2055.8 V2929.1 H2059.5 V2932.5 H2063.3 V2935.6 H2067 V2938.4 H2070.8 V2940.7 H2074.5 V2942.6 H2078.2 V2944.1 H2082 V2945.3 H2085.7 V2946.3 H2089.5 V2947 H2093.2 V2947.6 H2096.9 V2948.1 H2100.7 V2948.4 H2104.4 V2948.7 H2108.1 V2948.9 H2111.9 V2949.1 H2115.6 V2949.3 H2119.4 V2949.5 H2123.1 V2949.7 H2126.8 V2949.9 H2130.6 V2950.1 H2134.3 V2950.3 H2138.1 V2950.5 H2141.8 V2950.6 H2145.5 V2950.8 H2149.3 V2951 H2153 V2951.2 H2156.8 V2951.3 H2160.5 V2951.5 H2164.2 V2951.7 H2168 V2951.8 H2171.7 V2952 H2175.5 V2952.2 H2179.2" fill="none" stroke="#ff0000" stroke-width="3.2" stroke-linejoin="miter" stroke-linecap="butt"/>
<path d="M1435 2890.4 H1438.8 V2889.8 H1442.5 V2889.1 H1446.3 V2888.5 H1450 V2888 H1453.7 V2887.5 H1457.5 V2887.2 H1461.2 V2887 H1465 V2887 H1468.7 V2887.1 H1472.4 V2887.2 H1476.2 V2887.4 H1479.9 V2887.6 H1483.7 V2887.8 H1487.4 V2888 H1491.1 V2888.1 H1494.9 V2888.5 H1498.6 V2888.7 H1502.4 V2887.3 H1506.1 V2885.1 H1509.8 V2882.4 H1513.6 V2879.1 H1517.3 V2875.3 H1521 V2871.2 H1524.8 V2866.6 H1528.5 V2861.6 H1532.3 V2855.9 H1536 V2849.7 H1539.7 V2842.9 H1543.5 V2835.7 H1547.2 V2827.8 H1551 V2819.2 H1554.7 V2809.6 H1558.4 V2799.6 H1562.2 V2789.8 H1565.9 V2780.5 H1569.7 V2771.3 H1573.4 V2762.2 H1577.1 V2753.4 H1580.9 V2744.6 H1584.6 V2736 H1588.4 V2728.6 H1592.1 V2722.8 H1595.8 V2718.1 H1599.6 V2715 H1603.3 V2714.7 H1607.1 V2717.9 H1610.8 V2724.2 H1614.5 V2732.4 H1618.3 V2743 H1622 V2754.5 H1625.8 V2766.1 H1629.5 V2778.1 H1633.2 V2790.2 H1637 V2802.7 H1640.7 V2814.9 H1644.5 V2825.6 H1648.2 V2836.3 H1651.9 V2844.8 H1655.7 V2851.1 H1659.4 V2856.1 H1663.1 V2860.7 H1666.9 V2864.8 H1670.6 V2868.6 H1674.4 V2871.9 H1678.1 V2874.5 H1681.8 V2876.2 H1685.6 V2876.6 H1689.3 V2875.7 H1693.1 V2873.5 H1696.8 V2869.8 H1700.5 V2864.2 H1704.3 V2855.2 H1708 V2843.7 H1711.8 V2832.3 H1715.5 V2819.9 H1719.2 V2807.2 H1723 V2795.7 H1726.7 V2785.5 H1730.5 V2776.2 H1734.2 V2768.6 H1737.9 V2763.8 H1741.7 V2762.1 H1745.4 V2762.6 H1749.2 V2764.4 H1752.9 V2768 H1756.6 V2774.3 H1760.4 V2785.6 H1764.1 V2799.2 H1767.9 V2811.9 H1771.6 V2824.8 H1775.3 V2837.5 H1779.1 V2851.3 H1782.8 V2864.6 H1786.6 V2875.3 H1790.3 V2882.7 H1794 V2887.9 H1797.8 V2891.8 H1801.5 V2895 H1805.2 V2897.8 H1809 V2900 H1812.7 V2901.9 H1816.5 V2903.4 H1820.2 V2904.7 H1823.9 V2905.9 H1827.7 V2907 H1831.4 V2907.9 H1835.2 V2908.8 H1838.9 V2909.5 H1842.6 V2910.2 H1846.4 V2910.7 H1850.1 V2911.3 H1853.9 V2911.7 H1857.6 V2912 H1861.3 V2912.2 H1865.1 V2912.3 H1868.8 V2912.4 H1872.6 V2912.3 H1876.3 V2912.2 H1880 V2912 H1883.8 V2911.6 H1887.5 V2911.2 H1891.3 V2910.7 H1895 V2910.1 H1898.7 V2909.3 H1902.5 V2908.6 H1906.2 V2907.7 H1910 V2906.8 H1913.7 V2905.8 H1917.4 V2904.8 H1921.2 V2903.6 H1924.9 V2902.2 H1928.7 V2900.6 H1932.4 V2898.8 H1936.1 V2897 H1939.9 V2895.1 H1943.6 V2893.1 H1947.4 V2891 H1951.1 V2888.7 H1954.8 V2886.1 H1958.6 V2882.8 H1962.3 V2878.8 H1966 V2874.3 H1969.8 V2869.7 H1973.5 V2865.7 H1977.3 V2862.6 H1981 V2860 H1984.7 V2857.8 H1988.5 V2855.6 H1992.2 V2853.7 H1996 V2852.5 H1999.7 V2852.3 H2003.4 V2852.8 H2007.2 V2854.3 H2010.9 V2857 H2014.7 V2860.8 H2018.4 V2865.1 H2022.1 V2869.6 H2025.9 V2874.5 H2029.6 V2880 H2033.4 V2886.3 H2037.1 V2892.9 H2040.8 V2899.2 H2044.6 V2904.9 H2048.3 V2910.3 H2052.1 V2915.3 H2055.8 V2920.1 H2059.5 V2924.6 H2063.3 V2928.6 H2067 V2931.8 H2070.8 V2934.6 H2074.5 V2937 H2078.2 V2939 H2082 V2940.5 H2085.7 V2941.8 H2089.5 V2942.9 H2093.2 V2943.8 H2096.9 V2944.6 H2100.7 V2945.3 H2104.4 V2946 H2108.1 V2946.6 H2111.9 V2947.1 H2115.6 V2947.5 H2119.4 V2947.9 H2123.1 V2948.3 H2126.8 V2948.6 H2130.6 V2948.9 H2134.3 V2949.2 H2138.1 V2949.5 H2141.8 V2949.8 H2145.5 V2950.1 H2149.3 V2950.4 H2153 V2950.7 H2156.8 V2950.9 H2160.5 V2951.2 H2164.2 V2951.4 H2168 V2951.7 H2171.7 V2951.9 H2175.5 V2952.1 H2179.2" fill="none" stroke="#00e000" stroke-width="3.2" stroke-linejoin="miter" stroke-linecap="butt"/>
<path d="M1435 2895.2 H1438.8 V2894.2 H1442.5 V2893.2 H1446.3 V2892.3 H1450 V2891.5 H1453.7 V2890.9 H1457.5 V2890.4 H1461.2 V2890.1 H1465 V2890.1 H1468.7 V2890.3 H1472.4 V2890.6 H1476.2 V2890.9 H1479.9 V2891.3 H1483.7 V2891.7 H1487.4 V2892 H1491.1 V2892.2 H1494.9 V2892.4 H1498.6 V2891.9 H1502.4 V2890.4 H1506.1 V2888.6 H1509.8 V2886.3 H1513.6 V2883.2 H1517.3 V2879.3 H1521 V2874.6 H1524.8 V2869.4 H1528.5 V2863.8 H1532.3 V2858 H1536 V2852.1 H1539.7 V2845.9 H1543.5 V2839.2 H1547.2 V2831.9 H1551 V2823.5 H1554.7 V2813.8 H1558.4 V2803 H1562.2 V2791.7 H1565.9 V2779.4 H1569.7 V2766.6 H1573.4 V2753.9 H1577.1 V2741.5 H1580.9 V2729 H1584.6 V2716.5 H1588.4 V2703 H1592.1 V2689.5 H1595.8 V2680.5 H1599.6 V2675.3 H1603.3 V2674.2 H1607.1 V2677.7 H1610.8 V2685.2 H1614.5 V2696.2 H1618.3 V2708.9 H1622 V2722.2 H1625.8 V2736.3 H1629.5 V2751 H1633.2 V2765.8 H1637 V2780.9 H1640.7 V2795.5 H1644.5 V2809.3 H1648.2 V2822.2 H1651.9 V2833.8 H1655.7 V2844.8 H1659.4 V2854.7 H1663.1 V2862.2 H1666.9 V2867.3 H1670.6 V2871.1 H1674.4 V2873.8 H1678.1 V2875.3 H1681.8 V2875.7 H1685.6 V2875 H1689.3 V2873.3 H1693.1 V2870.3 H1696.8 V2865.6 H1700.5 V2858.4 H1704.3 V2848.5 H1708 V2836.9 H1711.8 V2824.9 H1715.5 V2811.6 H1719.2 V2797.4 H1723 V2783.2 H1726.7 V2768.8 H1730.5 V2754.2 H1734.2 V2741.2 H1737.9 V2731.5 H1741.7 V2725.1 H1745.4 V2722.5 H1749.2 V2723.8 H1752.9 V2728.9 H1756.6 V2737.5 H1760.4 V2751.8 H1764.1 V2770 H1767.9 V2789.1 H1771.6 V2809.2 H1775.3 V2828.1 H1779.1 V2846 H1782.8 V2862.3 H1786.6 V2875.5 H1790.3 V2885.8 H1794 V2893 H1797.8 V2898.3 H1801.5 V2902.3 H1805.2 V2905.4 H1809 V2907.8 H1812.7 V2910 H1816.5 V2911.9 H1820.2 V2913.7 H1823.9 V2915.3 H1827.7 V2916.8 H1831.4 V2918.2 H1835.2 V2919.5 H1838.9 V2920.7 H1842.6 V2921.8 H1846.4 V2922.8 H1850.1 V2923.7 H1853.9 V2924.5 H1857.6 V2925.2 H1861.3 V2925.7 H1865.1 V2926.2 H1868.8 V2926.6 H1872.6 V2927 H1876.3 V2927.3 H1880 V2927.5 H1883.8 V2927.6 H1887.5 V2927.6 H1891.3 V2927.6 H1895 V2927.5 H1898.7 V2927.4 H1902.5 V2927.2 H1906.2 V2927 H1910 V2926.8 H1913.7 V2926.5 H1917.4 V2926.1 H1921.2 V2925.4 H1924.9 V2924.2 H1928.7 V2922.7 H1932.4 V2921 H1936.1 V2919 H1939.9 V2916.6 H1943.6 V2913.8 H1947.4 V2910.5 H1951.1 V2906.6 H1954.8 V2902.1 H1958.6 V2897.4 H1962.3 V2892.6 H1966 V2887.9 H1969.8 V2883.5 H1973.5 V2879.4 H1977.3 V2876 H1981 V2872.7 H1984.7 V2869.9 H1988.5 V2867.5 H1992.2 V2865.4 H1996 V2863.6 H1999.7 V2862.4 H2003.4 V2862 H2007.2 V2862.8 H2010.9 V2864.9 H2014.7 V2867.9 H2018.4 V2871.8 H2022.1 V2876.5 H2025.9 V2881.7 H2029.6 V2888 H2033.4 V2894.5 H2037.1 V2900.2 H2040.8 V2905.7 H2044.6 V2910.8 H2048.3 V2915.9 H2052.1 V2921.1 H2055.8 V2925.8 H2059.5 V2929.7 H2063.3 V2932.9 H2067 V2935.6 H2070.8 V2938 H2074.5 V2940.2 H2078.2 V2942.1 H2082 V2943.8 H2085.7 V2945.3 H2089.5 V2946.5 H2093.2 V2947.6 H2096.9 V2948.5 H2100.7 V2949.3 H2104.4 V2950 H2108.1 V2950.7 H2111.9 V2951.3 H2115.6 V2951.9 H2119.4 V2952.4 H2123.1 V2952.9 H2126.8 V2953.3 H2130.6 V2953.7 H2134.3 V2954.1 H2138.1 V2954.4 H2141.8 V2954.7 H2145.5 V2955 H2149.3 V2955.2 H2153 V2955.4 H2156.8 V2955.6 H2160.5 V2955.7 H2164.2 V2955.9 H2168 V2956 H2171.7 V2956.1 H2175.5 V2956.3 H2179.2" fill="none" stroke="#0000ff" stroke-width="3.2" stroke-linejoin="miter" stroke-linecap="butt"/>
<path d="M1435 2903.8 H1438.8 V2903.1 H1442.5 V2902.5 H1446.3 V2901.9 H1450 V2901.3 H1453.7 V2900.9 H1457.5 V2900.6 H1461.2 V2900.5 H1465 V2900.6 H1468.7 V2900.8 H1472.4 V2901.1 H1476.2 V2901.5 H1479.9 V2901.8 H1483.7 V2902.2 H1487.4 V2902.5 H1491.1 V2902.6 H1494.9 V2902.7 H1498.6 V2902.8 H1502.4 V2902.7 H1506.1 V2902.5 H1509.8 V2901.8 H1513.6 V2900.6 H1517.3 V2899 H1521 V2896.5 H1524.8 V2892.8 H1528.5 V2887.9 H1532.3 V2881.9 H1536 V2874.9 H1539.7 V2867.4 H1543.5 V2859.1 H1547.2 V2850.1 H1551 V2840.7 H1554.7 V2831.1 H1558.4 V2821.2 H1562.2 V2811 H1565.9 V2800.6 H1569.7 V2790.5 H1573.4 V2780.2 H1577.1 V2770.1 H1580.9 V2760.5 H1584.6 V2751.7 H1588.4 V2743.3 H1592.1 V2735.6 H1595.8 V2728.9 H1599.6 V2724.1 H1603.3 V2724.4 H1607.1 V2728.2 H1610.8 V2734.5 H1614.5 V2743.2 H1618.3 V2754.7 H1622 V2766.9 H1625.8 V2778.8 H1629.5 V2790.9 H1633.2 V2802.5 H1637 V2813.5 H1640.7 V2823.9 H1644.5 V2833.6 H1648.2 V2843.1 H1651.9 V2852 H1655.7 V2859.4 H1659.4 V2865.1 H1663.1 V2869.4 H1666.9 V2872.8 H1670.6 V2875.5 H1674.4 V2877.4 H1678.1 V2878.1 H1681.8 V2877.4 H1685.6 V2876.1 H1689.3 V2874.2 H1693.1 V2871.4 H1696.8 V2867.5 H1700.5 V2861.9 H1704.3 V2854.5 H1708 V2845.6 H1711.8 V2835.8 H1715.5 V2824.1 H1719.2 V2811.5 H1723 V2799.8 H1726.7 V2789.2 H1730.5 V2779.3 H1734.2 V2771 H1737.9 V2765 H1741.7 V2761.3 H1745.4 V2759.6 H1749.2 V2760.5 H1752.9 V2764.5 H1756.6 V2772.7 H1760.4 V2787 H1764.1 V2803.2 H1767.9 V2817 H1771.6 V2830.4 H1775.3 V2843.9 H1779.1 V2858.3 H1782.8 V2872 H1786.6 V2882.9 H1790.3 V2892.1 H1794 V2899.8 H1797.8 V2906 H1801.5 V2910.9 H1805.2 V2914.6 H1809 V2917.7 H1812.7 V2920.5 H1816.5 V2923.1 H1820.2 V2924.8 H1823.9 V2925.7 H1827.7 V2926.1 H1831.4 V2926.3 H1835.2 V2926.4 H1838.9 V2926.4 H1842.6 V2926.3 H1846.4 V2926.2 H1850.1 V2926.1 H1853.9 V2926 H1857.6 V2925.9 H1861.3 V2926 H1865.1 V2926 H1868.8 V2926.1 H1872.6 V2926.2 H1876.3 V2926.3 H1880 V2926.5 H1883.8 V2926.6 H1887.5 V2926.8 H1891.3 V2927 H1895 V2927.2 H1898.7 V2927.5 H1902.5 V2927.8 H1906.2 V2928.3 H1910 V2929 H1913.7 V2930 H1917.4 V2931.3 H1921.2 V2932.8 H1924.9 V2934.1 H1928.7 V2935.3 H1932.4 V2936.4 H1936.1 V2937.6 H1939.9 V2938.8 H1943.6 V2939.9 H1947.4 V2940.7 H1951.1 V2941.2 H1954.8 V2941.2 H1958.6 V2941.4 H1962.3 V2941.8 H1966 V2942.2 H1969.8 V2942.6 H1973.5 V2943 H1977.3 V2943.4 H1981 V2943.7 H1984.7 V2944 H1988.5 V2944.3 H1992.2 V2944.5 H1996 V2944.6 H1999.7 V2944.8 H2003.4 V2945.1 H2007.2 V2945.5 H2010.9 V2946.1 H2014.7 V2946.7 H2018.4 V2947.5 H2022.1 V2948.3 H2025.9 V2949.1 H2029.6 V2949.9 H2033.4 V2950.7 H2037.1 V2951.5 H2040.8 V2952.3 H2044.6 V2953.1 H2048.3 V2953.9 H2052.1 V2954.7 H2055.8 V2955.3 H2059.5 V2955.8 H2063.3 V2956.1 H2067 V2956.4 H2070.8 V2956.6 H2074.5 V2956.7 H2078.2 V2956.9 H2082 V2957.1 H2085.7 V2957.4 H2089.5 V2957.7 H2093.2 V2958 H2096.9 V2958.3 H2100.7 V2958.5 H2104.4 V2958.7 H2108.1 V2958.8 H2111.9 V2958.9 H2115.6 V2958.9 H2119.4 V2959 H2123.1 V2959 H2126.8 V2958.9 H2130.6 V2958.9 H2134.3 V2958.9 H2138.1 V2958.8 H2141.8 V2958.8 H2145.5 V2958.7 H2149.3 V2958.6 H2153 V2958.6 H2156.8 V2958.5 H2160.5 V2958.4 H2164.2 V2958.3 H2168 V2958.2 H2171.7 V2958.1 H2175.5 V2958 H2179.2" fill="none" stroke="#000000" stroke-width="3" stroke-linejoin="miter" stroke-linecap="butt"/>
</svg></body></html>
